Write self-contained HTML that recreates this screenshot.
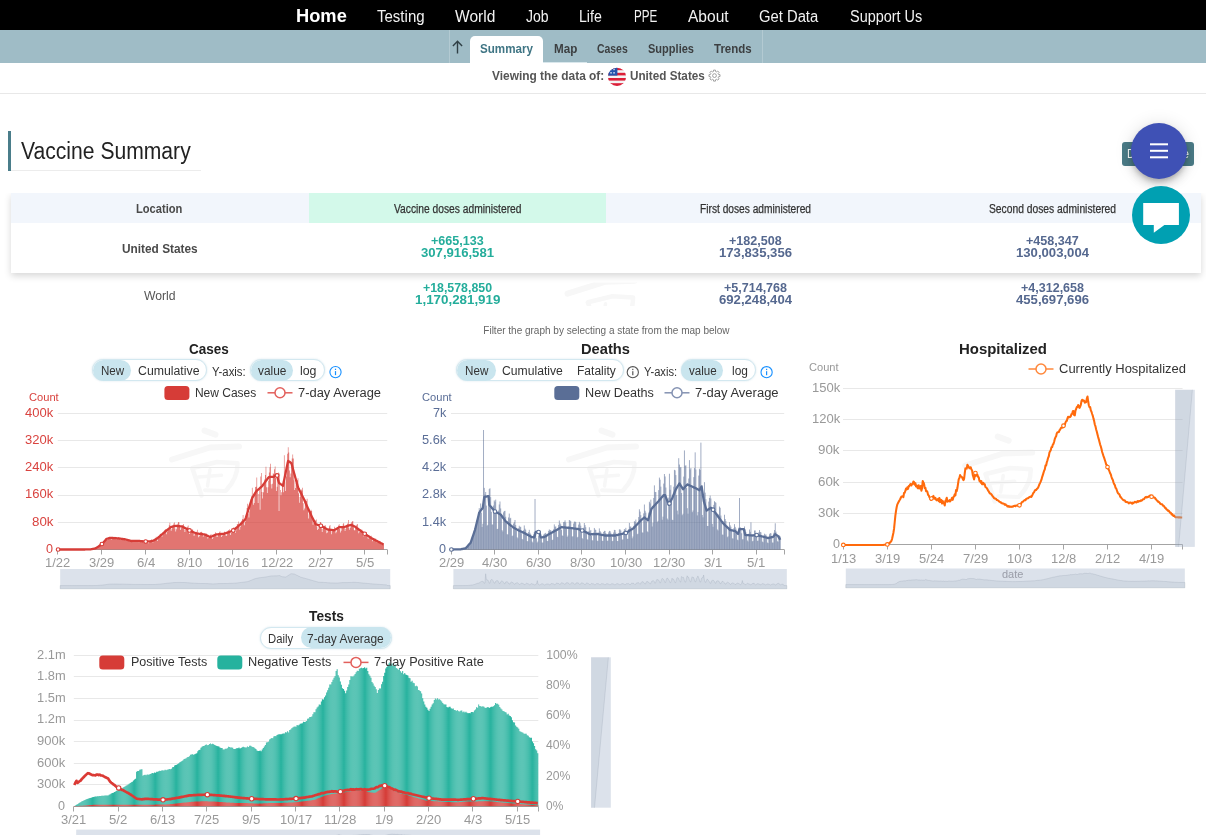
<!DOCTYPE html>
<html lang="en"><head><meta charset="utf-8"><title>COVID-19 Summary</title>
<style>
html,body{margin:0;padding:0;background:#fff;overflow:hidden;}
html{width:1206px;height:835px;}
body{width:1206px;height:835px;overflow:hidden;position:relative;font-family:"Liberation Sans",sans-serif;}
.t{position:absolute;white-space:pre;line-height:1;transform-origin:0 0;font-family:"Liberation Sans",sans-serif;}
.b{position:absolute;box-sizing:border-box;}
svg{position:absolute;left:0;top:0;overflow:hidden;}
</style></head>
<body>
<nav id="topnav">
<div class="b" style="left:0;top:0;width:1206px;height:30px;background:#000"></div>
<span class="t" style="left:295.50px;top:8px;font-size:17.5px;font-weight:700;color:#fff;transform:scaleX(1.0447);">Home</span>
<span class="t" style="left:376.70px;top:9px;font-size:16px;color:#f2f2f2;transform:scaleX(0.9388);">Testing</span>
<span class="t" style="left:455.40px;top:9px;font-size:16px;color:#f2f2f2;transform:scaleX(0.9711);">World</span>
<span class="t" style="left:525.80px;top:9px;font-size:16px;color:#f2f2f2;transform:scaleX(0.8761);">Job</span>
<span class="t" style="left:579.40px;top:9px;font-size:16px;color:#f2f2f2;transform:scaleX(0.8838);">Life</span>
<span class="t" style="left:634.40px;top:9px;font-size:16px;color:#f2f2f2;transform:scaleX(0.7309);">PPE</span>
<span class="t" style="left:688.20px;top:9px;font-size:16px;color:#f2f2f2;transform:scaleX(0.9710);">About</span>
<span class="t" style="left:759.30px;top:9px;font-size:16px;color:#f2f2f2;transform:scaleX(0.9245);">Get Data</span>
<span class="t" style="left:849.50px;top:9px;font-size:16px;color:#f2f2f2;transform:scaleX(0.9020);">Support Us</span>
</nav>
<nav id="subnav">
<div class="b" style="left:0;top:30px;width:1206px;height:33px;background:#9fbcc6"></div>
<div class="b" style="left:449px;top:30px;width:314px;height:33px;border-left:1px solid #b3cad2;border-right:1px solid #b3cad2"></div>
<div class="b" style="left:470px;top:62px;width:117px;height:1px;background:#d9e7ec"></div>
<div class="b" style="left:470px;top:36px;width:73.4px;height:27px;background:#fff;border-radius:5px 5px 0 0"></div>
<svg width="1206" height="835" viewBox="0 0 1206 835"><path d="M457.5 53.4 V41.3 M452.9 46 L457.5 41.3 L462.1 46" fill="none" stroke="#2f3f45" stroke-width="1.4"/></svg>
<span class="t" style="left:480.00px;top:42px;font-size:13px;font-weight:700;color:#3f7584;transform:scaleX(0.8945);">Summary</span>
<span class="t" style="left:553.50px;top:42px;font-size:13px;font-weight:700;color:#3c3f41;transform:scaleX(0.8962);">Map</span>
<span class="t" style="left:597.10px;top:42px;font-size:13px;font-weight:700;color:#3c3f41;transform:scaleX(0.8013);">Cases</span>
<span class="t" style="left:648.00px;top:42px;font-size:13px;font-weight:700;color:#3c3f41;transform:scaleX(0.8489);">Supplies</span>
<span class="t" style="left:714.30px;top:42px;font-size:13px;font-weight:700;color:#3c3f41;transform:scaleX(0.8845);">Trends</span>
</nav>
<header id="region">
<svg width="1206" height="835" viewBox="0 0 1206 835">
<defs><clipPath id="fl"><circle cx="617" cy="76.8" r="9.1"/></clipPath></defs>
<g clip-path="url(#fl)">
<rect x="607" y="67" width="20" height="20" fill="#f4f4f4"/>
<g fill="#dc1f38"><rect x="607" y="67.6" width="20" height="2.6"/><rect x="607" y="72.8" width="20" height="2.6"/><rect x="607" y="78" width="20" height="2.6"/><rect x="607" y="83.2" width="20" height="3"/></g>
<rect x="607" y="67" width="10.4" height="8.6" fill="#2454ad"/>
<g fill="#dfe6f5"><rect x="610.4" y="68.6" width="1.3" height="1.6"/><rect x="613.4" y="68.6" width="1.3" height="1.6"/><rect x="610.4" y="72" width="1.3" height="1.6"/><rect x="613.4" y="72" width="1.3" height="1.6"/></g>
</g>
<g fill="none" stroke="#8c8c8c" stroke-width="0.8" stroke-linejoin="round"><circle cx="714.5" cy="75.6" r="1.9"/><path d="M713.50 71.42L713.54 70.08L715.46 70.08L715.50 71.42L716.75 71.93L717.72 71.02L719.08 72.38L718.17 73.35L718.68 74.60L720.02 74.64L720.02 76.56L718.68 76.60L718.17 77.85L719.08 78.82L717.72 80.18L716.75 79.27L715.50 79.78L715.46 81.12L713.54 81.12L713.50 79.78L712.25 79.27L711.28 80.18L709.92 78.82L710.83 77.85L710.32 76.60L708.98 76.56L708.98 74.64L710.32 74.60L710.83 73.35L709.92 72.38L711.28 71.02L712.25 71.93Z"/></g>
</svg>
<div class="b" style="left:0;top:93px;width:1206px;height:1px;background:#e8e8e8"></div>
<span class="t" style="left:492.30px;top:69px;font-size:13px;font-weight:700;color:#555;transform:scaleX(0.9163);">Viewing the data of:</span>
<span class="t" style="left:630.00px;top:69px;font-size:13px;font-weight:700;color:#555;transform:scaleX(0.9004);">United States</span>
</header>
<section id="vaccine-summary">
<div class="b" style="left:8px;top:131px;width:3px;height:40px;background:#4a7d8a"></div>
<div class="b" style="left:11px;top:170px;width:190px;height:1px;background:#ececec"></div>
<div class="b" style="left:1122px;top:142px;width:72px;height:24px;background:#4b7b87;border-radius:3px"></div>
<div class="b" style="left:11px;top:193px;width:1190px;height:80px;background:#fff;box-shadow:0 3px 7px rgba(0,0,0,0.16);clip-path:inset(0 -12px -14px -12px)"></div>
<div class="b" style="left:11px;top:193px;width:1190px;height:30px;background:#f2f6fc"></div>
<div class="b" style="left:308.5px;top:193px;width:297.5px;height:30px;background:#d3f9ea"></div>
<span class="t" style="left:21.10px;top:140px;font-size:23px;color:#222;transform:scaleX(0.9177);">Vaccine Summary</span>
<span class="t" style="left:1127.00px;top:148px;font-size:12px;color:#fff;transform:scaleX(0.9295);">Data Source</span>
<span class="t" style="left:136.40px;top:203px;font-size:12.5px;font-weight:700;color:#4a4a4a;transform:scaleX(0.8907);">Location</span>
<span class="t" style="left:393.75px;top:203px;font-size:12px;color:#333;transform:scaleX(0.8545);-webkit-text-stroke:0.25px #333;">Vaccine doses administered</span>
<span class="t" style="left:699.50px;top:203px;font-size:12px;color:#333;transform:scaleX(0.8492);-webkit-text-stroke:0.25px #333;">First doses administered</span>
<span class="t" style="left:989.00px;top:203px;font-size:12px;color:#333;transform:scaleX(0.8576);-webkit-text-stroke:0.25px #333;">Second doses administered</span>
<span class="t" style="left:122.35px;top:243px;font-size:12.5px;font-weight:700;color:#4a4a4a;transform:scaleX(0.9475);">United States</span>
<span class="t" style="left:144.00px;top:290px;font-size:12.5px;color:#555;transform:scaleX(0.9747);">World</span>
<span class="t" style="left:431.15px;top:235px;font-size:12px;font-weight:700;color:#24ad9b;transform:scaleX(1.0458);">+665,133</span>
<span class="t" style="left:421.00px;top:246px;font-size:13px;font-weight:700;color:#24ad9b;transform:scaleX(1.0097);">307,916,581</span>
<span class="t" style="left:423.00px;top:282px;font-size:12px;font-weight:700;color:#24ad9b;transform:scaleX(1.0287);">+18,578,850</span>
<span class="t" style="left:414.80px;top:293px;font-size:13px;font-weight:700;color:#24ad9b;transform:scaleX(1.0272);">1,170,281,919</span>
<span class="t" style="left:728.65px;top:235px;font-size:12px;font-weight:700;color:#55688f;transform:scaleX(1.0458);">+182,508</span>
<span class="t" style="left:718.50px;top:246px;font-size:13px;font-weight:700;color:#55688f;transform:scaleX(1.0097);">173,835,356</span>
<span class="t" style="left:723.50px;top:282px;font-size:12px;font-weight:700;color:#55688f;transform:scaleX(1.0429);">+5,714,768</span>
<span class="t" style="left:718.50px;top:293px;font-size:13px;font-weight:700;color:#55688f;transform:scaleX(1.0097);">692,248,404</span>
<span class="t" style="left:1026.15px;top:235px;font-size:12px;font-weight:700;color:#55688f;transform:scaleX(1.0458);">+458,347</span>
<span class="t" style="left:1016.00px;top:246px;font-size:13px;font-weight:700;color:#55688f;transform:scaleX(1.0097);">130,003,004</span>
<span class="t" style="left:1021.00px;top:282px;font-size:12px;font-weight:700;color:#55688f;transform:scaleX(1.0429);">+4,312,658</span>
<span class="t" style="left:1016.00px;top:293px;font-size:13px;font-weight:700;color:#55688f;transform:scaleX(1.0097);">455,697,696</span>
</section>
<aside id="fab">
<div class="b" style="left:1131px;top:123px;width:56px;height:56px;border-radius:50%;background:#3f51b5;box-shadow:0 3px 5px -1px rgba(0,0,0,.2),0 6px 10px 0 rgba(0,0,0,.14),0 1px 18px 0 rgba(0,0,0,.12);z-index:20"></div>
<svg width="1206" height="835" viewBox="0 0 1206 835" style="z-index:21"><g fill="#fff"><rect x="1150" y="143.3" width="18" height="2"/><rect x="1150" y="149.8" width="18" height="2"/><rect x="1150" y="156.3" width="18" height="2"/></g></svg>
<div class="b" style="left:1132px;top:186px;width:58px;height:58px;border-radius:50%;background:#00a0b2;z-index:20"></div>
<svg width="1206" height="835" viewBox="0 0 1206 835" style="z-index:21"><path d="M1143.2 203.1H1178.9V225.1H1164.4L1153.8 232.8V225.1H1143.2Z" fill="#fff"/></svg>
</aside>
<div id="table-bg">
<svg width="1206" height="835" viewBox="0 0 1206 835">
<defs><clipPath id="wc395"><rect x="500" y="282.5" width="200" height="23.5"/></clipPath></defs><g clip-path="url(#wc395)"><g fill="none" stroke="#f7f7f7" stroke-linecap="round" stroke-linejoin="round" transform="translate(395.5 -165.8)"><path d="M204.5 430.6L215.5 434.6" stroke-width="6"/><path d="M172 459.5L210 447.5L239 446.5" stroke-width="6"/><path d="M192.5 468.5L201.5 495.5" stroke-width="4.5"/><path d="M192.5 468L217 462L237.500 463.200Q238 478 226 490.500" stroke-width="4.5"/><path d="M205 490.200L225 491" stroke-width="4"/><path d="M210 469.500L207.500 486" stroke-width="3.5"/><path d="M198.500 477L221.500 475.300" stroke-width="3.5"/></g></g>
</svg>
</div>
<section id="chart-cases" class="chart">
<div class="b toggle" style="left:91.9px;top:359.1px;width:115.4px;height:22.299999999999955px;border:1px solid #d3e8f0;border-radius:11.149999999999977px;background:#fff;box-shadow:0 0 2px rgba(160,200,215,.45)"></div>
<div class="b toggle-on" style="left:92.6px;top:359.8px;width:38.20000000000002px;height:20.899999999999956px;border-radius:11.149999999999977px;background:#c9e5ee"></div>
<div class="b toggle" style="left:249.8px;top:359.1px;width:75.19999999999999px;height:22.299999999999955px;border:1px solid #d3e8f0;border-radius:11.149999999999977px;background:#fff;box-shadow:0 0 2px rgba(160,200,215,.45)"></div>
<div class="b toggle-on" style="left:250.5px;top:359.8px;width:42.60000000000002px;height:20.899999999999956px;border-radius:11.149999999999977px;background:#c9e5ee"></div>
<svg width="1206" height="835" viewBox="0 0 1206 835">
<g fill="none" stroke="#f7f7f7" stroke-linecap="round" stroke-linejoin="round" transform="translate(0 0)"><path d="M204.5 430.6L215.5 434.6" stroke-width="6"/><path d="M172 459.5L210 447.5L239 446.5" stroke-width="6"/><path d="M192.5 468.5L201.5 495.5" stroke-width="4.5"/><path d="M192.5 468L217 462L237.500 463.200Q238 478 226 490.500" stroke-width="4.5"/><path d="M205 490.200L225 491" stroke-width="4"/><path d="M210 469.500L207.500 486" stroke-width="3.5"/><path d="M198.500 477L221.500 475.300" stroke-width="3.5"/></g>
<path d="M57.75 413.5H387.23M57.75 440.5H387.23M57.75 467.5H387.23M57.75 495.5H387.23M57.75 522.5H387.23" stroke="#e8e8e8" stroke-width="1" fill="none"/>
<path d="M57.75 549.5H387.23M57.5 549.5v5M101.5 549.5v5M145.5 549.5v5M189.5 549.5v5M232.5 549.5v5M276.5 549.5v5M320.5 549.5v5M364.5 549.5v5M387.5 549.5v5" stroke="#a4a4a4" stroke-width="1" fill="none"/>
<path d="M57.75 549.5V549.5H58.4V549.5H59.06V549.5H59.71V549.5H60.36V549.5H61.02V549.5H61.67V549.5H62.33V549.5H62.98V549.5H63.63V549.5H64.29V549.5H64.94V549.5H65.59V549.5H66.25V549.5H66.9V549.5H67.56V549.5H68.21V549.5H68.86V549.5H69.52V549.5H70.17V549.5H70.82V549.5H71.48V549.5H72.13V549.5H72.79V549.5H73.44V549.5H74.09V549.5H74.75V549.5H75.4V549.5H76.05V549.5H76.71V549.5H77.36V549.5H78.02V549.5H78.67V549.5H79.32V549.5H79.98V549.5H80.63V549.5H81.28V549.5H81.94V549.5H82.59V549.5H83.25V549.5H83.9V549.5H84.55V549.49H85.21V549.47H85.86V549.46H86.51V549.44H87.17V549.43H87.82V549.42H88.48V549.41H89.13V549.4H89.78V549.38H90.44V549.35H91.09V549.23H91.74V549.07H92.4V548.98H93.05V548.93H93.71V548.76H94.36V548.63H95.01V548.34H95.67V547.88H96.32V547.43H96.97V547.21H97.63V547.14H98.28V546.57H98.94V545.92H99.59V545.27H100.24V544.73H100.9V543.86H101.55V543.94H102.2V544.04H102.86V542.98H103.51V542.27H104.16V540.68H104.82V539.76H105.47V538.3H106.13V538.95H106.78V540.03H107.43V539.31H108.09V538.13H108.74V538.22H109.39V537.25H110.05V537.16H110.7V538.62H111.36V539.51H112.01V538.34H112.66V538.42H113.32V537.89H113.97V537.54H114.62V536.66H115.28V539H115.93V539.42H116.59V538.92H117.24V537.92H117.89V537.59H118.55V537.36H119.2V537.82H119.85V539.04H120.51V539.93H121.16V539.06H121.82V538.41H122.47V538.95H123.12V538.81H123.78V538.54H124.43V539.83H125.08V540.41H125.74V540.08H126.39V539.98H127.05V540.04H127.7V539.62H128.35V539.59H129.01V540.68H129.66V541.17H130.31V541.19H130.97V540.99H131.62V540.54H132.28V540.29H132.93V540.59H133.58V540.85H134.24V541.55H134.89V541.11H135.54V540.62H136.2V540.61H136.85V540.41H137.51V540.45H138.16V541.06H138.81V542.15H139.47V541.87H140.12V541.31H140.77V541.08H141.43V540.82H142.08V540.89H142.73V541.93H143.39V542.41H144.04V542.65H144.7V541.55H145.35V541.26H146V540.19H146.66V539.9H147.31V542.17H147.96V543.17H148.62V542.44H149.27V541.43H149.93V540.96H150.58V539.94H151.23V539.24H151.89V541.71H152.54V542.66H153.19V541.96H153.85V540.55H154.5V539.19H155.16V538.48H155.81V536.75H156.46V539.66H157.12V540.95H157.77V538.66H158.42V537.11H159.08V536.04H159.73V534.33H160.39V533.7H161.04V535.72H161.69V536.77H162.35V535.13H163V532.86H163.65V531.7H164.31V530.21H164.96V528.98H165.62V531.64H166.27V534.24H166.92V531.84H167.58V529.8H168.23V527.91H168.88V525.17H169.54V522.8H170.19V528H170.85V530.86H171.5V528.85H172.15V526.07H172.81V525.33H173.46V523.53H174.11V522.43H174.77V528.53H175.42V531.55H176.08V529.19H176.73V526.54H177.38V523.68H178.04V522.11H178.69V522.14H179.34V526.7H180V530.06H180.65V528.25H181.3V526.79H181.96V525.41H182.61V524.88H183.27V524.05H183.92V529.54H184.57V532.06H185.23V530.12H185.88V527.97H186.53V527.44H187.19V526.63H187.84V525.49H188.5V532.02H189.15V534.02H189.8V532.35H190.46V530.54H191.11V529.4H191.76V529.53H192.42V529.42H193.07V532.77H193.73V536.12H194.38V534.34H195.03V532.29H195.69V532.24H196.34V531.69H196.99V529.81H197.65V534.23H198.3V537.28H198.96V536.19H199.61V534.43H200.26V532.05H200.92V531.68H201.57V532.03H202.22V534.69H202.88V536.78H203.53V536.02H204.19V534.73H204.84V533.46H205.49V533.87H206.15V533.57H206.8V535.83H207.45V538.46H208.11V537.77H208.76V535.93H209.42V535.87H210.07V535.08H210.72V534.01H211.38V537.62H212.03V539.12H212.68V537.77H213.34V535.95H213.99V534.02H214.65V533.64H215.3V532.17H215.95V535.93H216.61V536.96H217.26V536.39H217.91V534.38H218.57V532.9H219.22V531.66H219.88V531.5H220.53V534.38H221.18V537.1H221.84V535.76H222.49V533.83H223.14V533.37H223.8V531.96H224.45V531.38H225.1V535.12H225.76V536.04H226.41V535.4H227.07V532.74H227.72V530.68H228.37V530.04H229.03V529.19H229.68V532.78H230.33V535.03H230.99V533H231.64V531.76H232.3V529.18H232.95V528.72H233.6V526.9H234.26V530.05H234.91V532.92H235.56V530.68H236.22V527.12H236.87V524.34H237.53V523.97H238.18V521.48H238.83V526.89H239.49V529.79H240.14V526.83H240.79V523.69H241.45V520.68H242.1V519.04H242.76V515.11H243.41V522.11H244.06V525.23H244.72V522.03H245.37V518.87H246.02V513.18H246.68V508.01H247.33V503.73H247.99V513.67H248.64V517.48H249.29V511.32H249.95V505.77H250.6V499.29H251.25V496.13H251.91V487.76H252.56V498.69H253.22V504.85H253.87V502.95H254.52V492.38H255.18V486.93H255.83V486.71H256.48V477.57H257.14V491.18H257.79V502.97H258.45V493.94H259.1V489.15H259.75V509.67H260.41V476.53H261.06V473.09H261.71V492.07H262.37V498.55H263.02V492.19H263.68V484.65H264.33V479.55H264.98V475.06H265.64V466.77H266.29V487.33H266.94V492.9H267.6V487.16H268.25V480.82H268.9V472.57H269.56V467.3H270.21V463.8H270.87V484.24H271.52V488.58H272.17V483.7H272.83V473.35H273.48V474.02H274.13V469.35H274.79V466.43H275.44V477.7H276.1V491.01H276.75V486.76H277.4V478.75H278.06V472.41H278.71V511.07H279.36V473.45H280.02V490.01H280.67V495.22H281.33V492.19H281.98V484H282.63V483.48H283.29V492.19H283.94V455.32H284.59V481.15H285.25V490.97H285.9V476.38H286.56V465.53H287.21V453.68H287.86V447.16H288.52V452.6H289.17V470.62H289.82V477.17H290.48V473.49H291.13V464.77H291.79V458.62H292.44V454.57H293.09V458.59H293.75V480.28H294.4V490.06H295.05V488.02H295.71V482.83H296.36V479.57H297.02V480.35H297.67V478.19H298.32V493.35H298.98V502.77H299.63V496.89H300.28V493.73H300.94V489.38H301.59V490.58H302.25V487.85H302.9V503.2H303.55V510.15H304.21V508.47H304.86V500.86H305.51V499.5H306.17V501.11H306.82V498.74H307.47V508.64H308.13V518.62H308.78V514.34H309.44V512.51H310.09V510.88H310.74V509.68H311.4V510.88H312.05V519.63H312.7V524.69H313.36V522.64H314.01V522.14H314.67V519.95H315.32V520.74H315.97V519.61H316.63V526.38H317.28V530.07H317.93V528.9H318.59V526.07H319.24V524.52H319.9V521.97H320.55V522.24H321.2V528.32H321.86V531.9H322.51V528.94H323.16V526.44H323.82V525.48H324.47V525.94H325.13V525.19H325.78V530.37H326.43V533.23H327.09V532.45H327.74V529.63H328.39V528.52H329.05V526.28H329.7V525.11H330.36V530.93H331.01V534.24H331.66V531.54H332.32V530.45H332.97V528.91H333.62V529.01H334.28V526.7H334.93V530.8H335.59V533.23H336.24V531.81H336.89V528.38H337.55V527.44H338.2V525.57H338.85V524.3H339.51V528.76H340.16V532.47H340.82V530.78H341.47V527.58H342.12V525.97H342.78V524.19H343.43V522.96H344.08V527.79H344.74V531.02H345.39V528.86H346.05V525.44H346.7V524.51H347.35V523.52H348.01V520.02H348.66V527.69H349.31V529.66H349.97V527.65H350.62V526.02H351.27V522.34H351.93V521.48H352.58V521.04H353.24V526.84H353.89V530.29H354.54V530.14H355.2V527.1H355.85V525.86H356.5V524.72H357.16V524.04H357.81V529.63H358.47V533.37H359.12V531.64H359.77V530.1H360.43V529.04H361.08V529.76H361.73V529.66H362.39V533.95H363.04V536.32H363.7V535.78H364.35V533.2H365V532.84H365.66V532.59H366.31V532.2H366.96V536.05H367.62V538.61H368.27V538.46H368.93V536.35H369.58V535.84H370.23V536.16H370.89V535.86H371.54V538.83H372.19V541.21H372.85V540.06H373.5V539.62H374.16V539.38H374.81V539.17H375.46V538.52H376.12V541.52H376.77V542.62H377.42V542.08H378.08V541.8H378.73V541.65H379.39V541.66H380.04V541.49H380.69V543.4H381.35V544.67H382V544.48H382.65V544.45H383.31V544.34H383.96V549.5H384.62V549.5H385.27V549.5H385.92V549.5H386.58V549.5H387.23V549.5Z" fill="rgba(213,58,53,0.70)"/>
<path d="M58.08 549.5L58.73 549.5L59.38 549.5L60.04 549.5L60.69 549.5L61.35 549.5L62 549.5L62.65 549.5L63.31 549.5L63.96 549.5L64.61 549.5L65.27 549.5L65.92 549.5L66.58 549.5L67.23 549.5L67.88 549.5L68.54 549.5L69.19 549.5L69.84 549.5L70.5 549.5L71.15 549.5L71.81 549.5L72.46 549.5L73.11 549.5L73.77 549.5L74.42 549.5L75.07 549.5L75.73 549.5L76.38 549.5L77.04 549.5L77.69 549.5L78.34 549.5L79 549.5L79.65 549.5L80.3 549.5L80.96 549.5L81.61 549.5L82.26 549.5L82.92 549.5L83.57 549.5L84.23 549.5L84.88 549.49L85.53 549.47L86.19 549.46L86.84 549.45L87.49 549.43L88.15 549.42L88.8 549.4L89.46 549.39L90.11 549.38L90.76 549.36L91.42 549.23L92.07 549.1L92.72 548.97L93.38 548.84L94.03 548.71L94.69 548.58L95.34 548.4L95.99 548.01L96.65 547.62L97.3 547.22L97.95 546.83L98.61 546.44L99.26 545.95L99.92 545.47L100.57 544.98L101.22 544.5L101.88 544.01L102.53 543.42L103.18 542.68L103.84 541.93L104.49 541.19L105.15 540.45L105.8 539.7L106.45 538.96L107.11 538.75L107.76 538.53L108.41 538.32L109.07 538.11L109.72 537.9L110.38 537.79L111.03 537.84L111.68 537.89L112.34 537.94L112.99 537.99L113.64 538.04L114.3 538.09L114.95 538.15L115.61 538.2L116.26 538.25L116.91 538.3L117.57 538.35L118.22 538.4L118.87 538.45L119.53 538.54L120.18 538.63L120.83 538.72L121.49 538.81L122.14 538.9L122.8 538.99L123.45 539.08L124.1 539.17L124.76 539.26L125.41 539.39L126.06 539.57L126.72 539.75L127.37 539.93L128.03 540.11L128.68 540.28L129.33 540.46L129.99 540.64L130.64 540.82L131.29 541L131.95 540.98L132.6 540.96L133.26 540.95L133.91 540.93L134.56 540.91L135.22 540.89L135.87 540.87L136.52 540.86L137.18 540.84L137.83 540.86L138.49 540.91L139.14 540.96L139.79 541.02L140.45 541.07L141.1 541.12L141.75 541.18L142.41 541.23L143.06 541.28L143.72 541.33L144.37 541.39L145.02 541.44L145.68 541.49L146.33 541.49L146.98 541.45L147.64 541.42L148.29 541.39L148.95 541.35L149.6 541.32L150.25 541.28L150.91 541.25L151.56 541.22L152.21 541.18L152.87 540.94L153.52 540.56L154.18 540.18L154.83 539.8L155.48 539.42L156.14 539.04L156.79 538.66L157.44 538.28L158.1 537.71L158.75 537.15L159.41 536.58L160.06 536.01L160.71 535.45L161.37 534.88L162.02 534.31L162.67 533.75L163.33 533.18L163.98 532.61L164.63 532.05L165.29 531.51L165.94 531L166.6 530.48L167.25 529.97L167.9 529.46L168.56 528.94L169.21 528.43L169.86 527.92L170.52 527.4L171.17 526.89L171.83 526.76L172.48 526.62L173.13 526.49L173.79 526.35L174.44 526.22L175.09 526.08L175.75 525.95L176.4 525.9L177.06 525.97L177.71 526.04L178.36 526.12L179.02 526.19L179.67 526.26L180.32 526.33L180.98 526.41L181.63 526.48L182.29 526.55L182.94 526.9L183.59 527.26L184.25 527.61L184.9 527.97L185.55 528.32L186.21 528.68L186.86 529.03L187.52 529.39L188.17 529.74L188.82 530.1L189.48 530.45L190.13 530.77L190.78 531.06L191.44 531.35L192.09 531.63L192.75 531.92L193.4 532.2L194.05 532.49L194.71 532.78L195.36 533.06L196.01 533.35L196.67 533.44L197.32 533.53L197.98 533.62L198.63 533.71L199.28 533.79L199.94 533.88L200.59 533.97L201.24 534.06L201.9 534.15L202.55 534.24L203.2 534.33L203.86 534.42L204.51 534.5L205.17 534.72L205.82 535.01L206.47 535.31L207.13 535.61L207.78 535.9L208.43 536.2L209.09 536.5L209.74 536.79L210.4 537.09L211.05 536.79L211.7 536.49L212.36 536.19L213.01 535.89L213.66 535.59L214.32 535.29L214.97 534.99L215.63 534.69L216.28 534.51L216.93 534.44L217.59 534.38L218.24 534.32L218.89 534.25L219.55 534.19L220.2 534.12L220.86 534.06L221.51 534L222.16 533.93L222.82 533.87L223.47 533.81L224.12 533.74L224.78 533.64L225.43 533.41L226.09 533.17L226.74 532.93L227.39 532.69L228.05 532.46L228.7 532.22L229.35 531.98L230.01 531.74L230.66 531.51L231.32 531.27L231.97 531.03L232.62 530.8L233.28 530.46L233.93 529.91L234.58 529.35L235.24 528.8L235.89 528.24L236.55 527.69L237.2 527.13L237.85 526.58L238.51 526.02L239.16 525.46L239.81 524.89L240.47 524.23L241.12 523.57L241.78 522.91L242.43 522.25L243.08 521.59L243.74 520.93L244.39 520.27L245.04 519.61L245.7 518.12L246.35 516.07L247 514.03L247.66 511.99L248.31 509.94L248.97 507.9L249.62 505.86L250.27 503.81L250.93 501.77L251.58 499.73L252.23 498.05L252.89 496.94L253.54 495.82L254.2 494.71L254.85 493.59L255.5 492.48L256.16 491.36L256.81 490.79L257.46 490.23L258.12 489.66L258.77 489.09L259.43 488.53L260.08 487.96L260.73 487.39L261.39 486.83L262.04 486.26L262.69 485.37L263.35 484.48L264 483.59L264.66 482.69L265.31 481.8L265.96 480.91L266.62 480.02L267.27 479.13L267.92 478.24L268.58 477.35L269.23 477.05L269.89 477L270.54 476.96L271.19 476.92L271.85 476.87L272.5 476.83L273.15 476.78L273.81 476.74L274.46 476.22L275.12 475.71L275.77 475.19L276.42 474.67L277.08 475.46L277.73 478.2L278.38 480.94L279.04 483L279.69 483.46L280.35 483.92L281 484.37L281.65 484.83L282.31 485.29L282.96 485.75L283.61 482.58L284.27 479.41L284.92 476.24L285.57 473.07L286.23 469.89L286.88 466.64L287.54 463.38L288.19 460.85L288.84 461.32L289.5 461.79L290.15 462.25L290.8 462.72L291.46 463.38L292.11 465.8L292.77 468.21L293.42 470.63L294.07 473.03L294.73 475.39L295.38 477.76L296.03 480.12L296.69 482.49L297.34 484.85L298 487.21L298.65 488.62L299.3 489.93L299.96 491.23L300.61 492.53L301.26 493.84L301.92 495.14L302.57 496.44L303.23 497.75L303.88 499.05L304.53 500.5L305.19 501.97L305.84 503.44L306.49 504.91L307.15 506.38L307.8 507.85L308.46 509.32L309.11 510.78L309.76 512.25L310.42 513.72L311.07 515.1L311.72 516.42L312.38 517.74L313.03 519.06L313.69 520.38L314.34 521.7L314.99 523.02L315.65 524.34L316.3 524.51L316.95 524.67L317.61 524.84L318.26 525L318.92 525.17L319.57 525.33L320.22 525.5L320.88 525.82L321.53 526.18L322.18 526.54L322.84 526.91L323.49 527.27L324.15 527.63L324.8 527.99L325.45 528.35L326.11 528.72L326.76 529.08L327.41 529.44L328.07 529.52L328.72 529.6L329.37 529.68L330.03 529.76L330.68 529.84L331.34 529.92L331.99 530L332.64 530.08L333.3 530.16L333.95 530.24L334.6 529.95L335.26 529.56L335.91 529.17L336.57 528.78L337.22 528.39L337.87 528.01L338.53 527.62L339.18 527.23L339.83 527.21L340.49 527.19L341.14 527.16L341.8 527.14L342.45 527.12L343.1 527.1L343.76 527.07L344.41 526.97L345.06 526.76L345.72 526.54L346.37 526.32L347.03 526.11L347.68 525.89L348.33 525.67L348.99 525.46L349.64 525.24L350.29 525.02L350.95 524.9L351.6 525.16L352.26 525.43L352.91 525.69L353.56 525.95L354.22 526.21L354.87 526.68L355.52 527.15L356.18 527.62L356.83 528.09L357.49 528.56L358.14 529.03L358.79 529.5L359.45 529.97L360.1 530.44L360.75 530.91L361.41 531.38L362.06 531.86L362.72 532.33L363.37 532.8L364.02 533.27L364.68 533.73L365.33 534.16L365.98 534.59L366.64 535.02L367.29 535.45L367.94 535.88L368.6 536.3L369.25 536.73L369.91 537.16L370.56 537.59L371.21 537.98L371.87 538.32L372.52 538.67L373.17 539.02L373.83 539.37L374.48 539.71L375.14 540.06L375.79 540.41L376.44 540.75L377.1 541.1L377.75 541.45L378.4 541.8L379.06 542.14L379.71 542.49L380.37 542.84L381.02 543.18L381.67 543.53L382.33 543.88L382.98 544.22L383.63 544.55" fill="none" stroke="#d63c37" stroke-width="2.3" stroke-linejoin="round"/>
<g fill="#fff" stroke="#d63c37" stroke-width="1.1"><circle cx="58.08" cy="549.5" r="1.8"/><circle cx="101.88" cy="544.01" r="1.8"/><circle cx="145.68" cy="541.49" r="1.8"/><circle cx="189.48" cy="530.45" r="1.8"/><circle cx="233.28" cy="530.46" r="1.8"/><circle cx="277.08" cy="475.46" r="1.8"/><circle cx="320.88" cy="525.82" r="1.8"/><circle cx="364.68" cy="533.73" r="1.8"/></g>
<path d="M60.2 588.8L60.2 585.6L60.86 585.6L61.51 585.6L62.17 585.6L62.82 585.6L63.48 585.6L64.14 585.6L64.79 585.6L65.45 585.6L66.1 585.6L66.76 585.6L67.42 585.6L68.07 585.6L68.73 585.6L69.38 585.6L70.04 585.6L70.7 585.6L71.35 585.6L72.01 585.6L72.67 585.6L73.32 585.6L73.98 585.6L74.63 585.6L75.29 585.6L75.95 585.6L76.6 585.6L77.26 585.6L77.91 585.6L78.57 585.6L79.23 585.6L79.88 585.6L80.54 585.6L81.19 585.6L81.85 585.6L82.51 585.6L83.16 585.6L83.82 585.6L84.47 585.6L85.13 585.6L85.79 585.6L86.44 585.6L87.1 585.6L87.75 585.6L88.41 585.59L89.07 585.59L89.72 585.59L90.38 585.59L91.03 585.59L91.69 585.59L92.35 585.58L93 585.58L93.66 585.56L94.32 585.55L94.97 585.53L95.63 585.51L96.28 585.49L96.94 585.48L97.6 585.45L98.25 585.4L98.91 585.35L99.56 585.3L100.22 585.24L100.88 585.19L101.53 585.12L102.19 585.06L102.84 584.99L103.5 584.93L104.16 584.86L104.81 584.79L105.47 584.69L106.12 584.59L106.78 584.49L107.44 584.39L108.09 584.29L108.75 584.19L109.4 584.16L110.06 584.13L110.72 584.1L111.37 584.07L112.03 584.05L112.69 584.03L113.34 584.04L114 584.04L114.65 584.05L115.31 584.06L115.97 584.06L116.62 584.07L117.28 584.08L117.93 584.09L118.59 584.09L119.25 584.1L119.9 584.11L120.56 584.11L121.21 584.12L121.87 584.13L122.53 584.14L123.18 584.16L123.84 584.17L124.49 584.18L125.15 584.19L125.81 584.2L126.46 584.22L127.12 584.23L127.77 584.25L128.43 584.27L129.09 584.29L129.74 584.32L130.4 584.34L131.05 584.36L131.71 584.39L132.37 584.41L133.02 584.44L133.68 584.46L134.34 584.46L134.99 584.46L135.65 584.45L136.3 584.45L136.96 584.45L137.62 584.45L138.27 584.44L138.93 584.44L139.58 584.44L140.24 584.44L140.9 584.45L141.55 584.46L142.21 584.46L142.86 584.47L143.52 584.48L144.18 584.48L144.83 584.49L145.49 584.5L146.14 584.51L146.8 584.51L147.46 584.52L148.11 584.53L148.77 584.53L149.42 584.52L150.08 584.52L150.74 584.51L151.39 584.51L152.05 584.5L152.7 584.5L153.36 584.49L154.02 584.49L154.67 584.49L155.33 584.45L155.99 584.4L156.64 584.35L157.3 584.3L157.95 584.25L158.61 584.2L159.27 584.15L159.92 584.1L160.58 584.02L161.23 583.94L161.89 583.87L162.55 583.79L163.2 583.72L163.86 583.64L164.51 583.56L165.17 583.49L165.83 583.41L166.48 583.34L167.14 583.26L167.79 583.19L168.45 583.12L169.11 583.05L169.76 582.98L170.42 582.91L171.07 582.85L171.73 582.78L172.39 582.71L173.04 582.64L173.7 582.57L174.36 582.55L175.01 582.53L175.67 582.52L176.32 582.5L176.98 582.48L177.64 582.46L178.29 582.44L178.95 582.44L179.6 582.45L180.26 582.46L180.92 582.47L181.57 582.48L182.23 582.49L182.88 582.5L183.54 582.5L184.2 582.51L184.85 582.52L185.51 582.57L186.16 582.62L186.82 582.67L187.48 582.71L188.13 582.76L188.79 582.81L189.44 582.86L190.1 582.9L190.76 582.95L191.41 583L192.07 583.05L192.72 583.09L193.38 583.13L194.04 583.17L194.69 583.21L195.35 583.24L196.01 583.28L196.66 583.32L197.32 583.36L197.97 583.4L198.63 583.44L199.29 583.45L199.94 583.46L200.6 583.47L201.25 583.48L201.91 583.5L202.57 583.51L203.22 583.52L203.88 583.53L204.53 583.54L205.19 583.55L205.85 583.57L206.5 583.58L207.16 583.59L207.81 583.62L208.47 583.66L209.13 583.7L209.78 583.74L210.44 583.78L211.09 583.82L211.75 583.86L212.41 583.9L213.06 583.94L213.72 583.9L214.37 583.86L215.03 583.82L215.69 583.78L216.34 583.74L217 583.7L217.66 583.66L218.31 583.62L218.97 583.59L219.62 583.58L220.28 583.57L220.94 583.57L221.59 583.56L222.25 583.55L222.9 583.54L223.56 583.53L224.22 583.52L224.87 583.51L225.53 583.51L226.18 583.5L226.84 583.49L227.5 583.47L228.15 583.44L228.81 583.41L229.46 583.38L230.12 583.35L230.78 583.32L231.43 583.28L232.09 583.25L232.74 583.22L233.4 583.19L234.06 583.16L234.71 583.13L235.37 583.09L236.03 583.05L236.68 582.97L237.34 582.9L237.99 582.83L238.65 582.75L239.31 582.68L239.96 582.6L240.62 582.53L241.27 582.45L241.93 582.38L242.59 582.3L243.24 582.21L243.9 582.12L244.55 582.04L245.21 581.95L245.87 581.86L246.52 581.77L247.18 581.68L247.83 581.59L248.49 581.39L249.15 581.12L249.8 580.85L250.46 580.57L251.11 580.3L251.77 580.02L252.43 579.75L253.08 579.48L253.74 579.2L254.39 578.93L255.05 578.71L255.71 578.56L256.36 578.41L257.02 578.26L257.68 578.11L258.33 577.96L258.99 577.81L259.64 577.73L260.3 577.66L260.96 577.58L261.61 577.5L262.27 577.43L262.92 577.35L263.58 577.28L264.24 577.2L264.89 577.12L265.55 577.01L266.2 576.89L266.86 576.77L267.52 576.65L268.17 576.53L268.83 576.41L269.48 576.29L270.14 576.17L270.8 576.05L271.45 575.93L272.11 575.89L272.76 575.88L273.42 575.88L274.08 575.87L274.73 575.87L275.39 575.86L276.04 575.85L276.7 575.85L277.36 575.78L278.01 575.71L278.67 575.64L279.33 575.57L279.98 575.68L280.64 576.04L281.29 576.41L281.95 576.69L282.61 576.75L283.26 576.81L283.92 576.87L284.57 576.93L285.23 577L285.89 577.06L286.54 576.63L287.2 576.21L287.85 575.78L288.51 575.36L289.17 574.93L289.82 574.5L290.48 574.06L291.13 573.72L291.79 573.78L292.45 573.85L293.1 573.91L293.76 573.97L294.41 574.06L295.07 574.38L295.73 574.71L296.38 575.03L297.04 575.35L297.7 575.67L298.35 575.99L299.01 576.3L299.66 576.62L300.32 576.94L300.98 577.25L301.63 577.44L302.29 577.62L302.94 577.79L303.6 577.97L304.26 578.14L304.91 578.31L305.57 578.49L306.22 578.66L306.88 578.84L307.54 579.03L308.19 579.23L308.85 579.43L309.5 579.62L310.16 579.82L310.82 580.02L311.47 580.21L312.13 580.41L312.78 580.61L313.44 580.81L314.1 580.99L314.75 581.17L315.41 581.34L316.06 581.52L316.72 581.7L317.38 581.87L318.03 582.05L318.69 582.23L319.35 582.25L320 582.27L320.66 582.29L321.31 582.32L321.97 582.34L322.63 582.36L323.28 582.38L323.94 582.43L324.59 582.47L325.25 582.52L325.91 582.57L326.56 582.62L327.22 582.67L327.87 582.72L328.53 582.77L329.19 582.81L329.84 582.86L330.5 582.91L331.15 582.92L331.81 582.93L332.47 582.94L333.12 582.95L333.78 582.97L334.43 582.98L335.09 582.99L335.75 583L336.4 583.01L337.06 583.02L337.71 582.98L338.37 582.93L339.03 582.88L339.68 582.82L340.34 582.77L341 582.72L341.65 582.67L342.31 582.62L342.96 582.61L343.62 582.61L344.28 582.61L344.93 582.6L345.59 582.6L346.24 582.6L346.9 582.59L347.56 582.58L348.21 582.55L348.87 582.52L349.52 582.49L350.18 582.46L350.84 582.44L351.49 582.41L352.15 582.38L352.8 582.35L353.46 582.32L354.12 582.3L354.77 582.34L355.43 582.37L356.08 582.41L356.74 582.44L357.4 582.48L358.05 582.54L358.71 582.6L359.37 582.67L360.02 582.73L360.68 582.79L361.33 582.86L361.99 582.92L362.65 582.98L363.3 583.05L363.96 583.11L364.61 583.17L365.27 583.24L365.93 583.3L366.58 583.36L367.24 583.42L367.89 583.49L368.55 583.54L369.21 583.6L369.86 583.66L370.52 583.72L371.17 583.77L371.83 583.83L372.49 583.89L373.14 583.95L373.8 584L374.45 584.06L375.11 584.1L375.77 584.15L376.42 584.2L377.08 584.24L377.73 584.29L378.39 584.33L379.05 584.38L379.7 584.43L380.36 584.47L381.02 584.52L381.67 584.57L382.33 584.61L382.98 584.66L383.64 584.71L384.3 584.75L384.95 584.8L385.61 584.85L386.26 584.89L386.92 584.94L387.58 585.6L388.23 585.6L388.89 585.6L389.54 585.6L390.2 585.6L390.2 588.8Z" fill="rgba(47,69,84,0.09)" stroke="rgba(47,69,84,0.3)" stroke-width="0.5"/>
<rect x="60.2" y="569" width="330" height="19.8" fill="rgba(167,183,204,0.4)"/>
<rect x="164.4" y="386" width="25" height="14" rx="3.5" fill="#d63c37"/>
<path d="M267.5 392.8H292.5" stroke="#e2605c" stroke-width="1.5"/><circle cx="280" cy="392.8" r="5" fill="#fff" stroke="#e2605c" stroke-width="1.5"/>
<g class="info"><circle cx="335.5" cy="372.1" r="5.6" fill="none" stroke="#1890ff" stroke-width="1.1"/><rect x="334.9" y="371.1" width="1.2" height="4" fill="#1890ff"/><rect x="334.9" y="368.70000000000005" width="1.2" height="1.3" fill="#1890ff"/></g>
</svg>
<span class="t" style="left:46.30px;top:543px;font-size:12.3px;color:#d9433f;transform:scaleX(1.0228);">0</span>
<span class="t" style="left:31.80px;top:516px;font-size:12.3px;color:#d9433f;transform:scaleX(1.0843);">80k</span>
<span class="t" style="left:25.10px;top:488px;font-size:12.3px;color:#d9433f;transform:scaleX(1.0573);">160k</span>
<span class="t" style="left:25.10px;top:461px;font-size:12.3px;color:#d9433f;transform:scaleX(1.0573);">240k</span>
<span class="t" style="left:25.10px;top:434px;font-size:12.3px;color:#d9433f;transform:scaleX(1.0573);">320k</span>
<span class="t" style="left:25.10px;top:407px;font-size:12.3px;color:#d9433f;transform:scaleX(1.0573);">400k</span>
<span class="t" style="left:28.60px;top:392px;font-size:11.3px;color:#d9433f;transform:scaleX(0.9849);">Count</span>
<span class="t" style="left:45.40px;top:557px;font-size:12.5px;color:#999;transform:scaleX(1.0393);">1/22</span>
<span class="t" style="left:89.20px;top:557px;font-size:12.5px;color:#999;transform:scaleX(1.0393);">3/29</span>
<span class="t" style="left:136.50px;top:557px;font-size:12.5px;color:#999;transform:scaleX(1.0523);">6/4</span>
<span class="t" style="left:176.80px;top:557px;font-size:12.5px;color:#999;transform:scaleX(1.0393);">8/10</span>
<span class="t" style="left:217.10px;top:557px;font-size:12.5px;color:#999;transform:scaleX(1.0326);">10/16</span>
<span class="t" style="left:260.90px;top:557px;font-size:12.5px;color:#999;transform:scaleX(1.0326);">12/22</span>
<span class="t" style="left:308.20px;top:557px;font-size:12.5px;color:#999;transform:scaleX(1.0393);">2/27</span>
<span class="t" style="left:355.50px;top:557px;font-size:12.5px;color:#999;transform:scaleX(1.0523);">5/5</span>
<span class="t" style="left:194.90px;top:387px;font-size:12px;color:#333;">New Cases</span>
<span class="t" style="left:298.10px;top:387px;font-size:12px;color:#333;transform:scaleX(1.0755);">7-day Average</span>
<span class="t" style="left:188.80px;top:341px;font-size:15px;font-weight:700;color:#222;transform:scaleX(0.9004);">Cases</span>
<span class="t" style="left:100.70px;top:365px;font-size:12.5px;color:#333;transform:scaleX(0.9234);">New</span>
<span class="t" style="left:138.40px;top:365px;font-size:12.5px;color:#333;transform:scaleX(0.9835);">Cumulative</span>
<span class="t" style="left:212.10px;top:366px;font-size:12px;color:#333;transform:scaleX(0.9472);">Y-axis:</span>
<span class="t" style="left:257.80px;top:365px;font-size:12.5px;color:#333;transform:scaleX(0.9501);">value</span>
<span class="t" style="left:300.20px;top:365px;font-size:12.5px;color:#333;transform:scaleX(0.9888);">log</span>
</section>
<section id="chart-deaths" class="chart">
<div class="b toggle" style="left:455.8px;top:359.1px;width:168.2px;height:22.299999999999955px;border:1px solid #d3e8f0;border-radius:11.149999999999977px;background:#fff;box-shadow:0 0 2px rgba(160,200,215,.45)"></div>
<div class="b toggle-on" style="left:456.5px;top:359.8px;width:39.0px;height:20.899999999999956px;border-radius:11.149999999999977px;background:#c9e5ee"></div>
<div class="b toggle" style="left:680.6px;top:359.1px;width:75.29999999999995px;height:22.299999999999955px;border:1px solid #d3e8f0;border-radius:11.149999999999977px;background:#fff;box-shadow:0 0 2px rgba(160,200,215,.45)"></div>
<div class="b toggle-on" style="left:681.3px;top:359.8px;width:42.0px;height:20.899999999999956px;border-radius:11.149999999999977px;background:#c9e5ee"></div>
<svg width="1206" height="835" viewBox="0 0 1206 835">
<g fill="none" stroke="#f7f7f7" stroke-linecap="round" stroke-linejoin="round" transform="translate(397 0)"><path d="M204.5 430.6L215.5 434.6" stroke-width="6"/><path d="M172 459.5L210 447.5L239 446.5" stroke-width="6"/><path d="M192.5 468.5L201.5 495.5" stroke-width="4.5"/><path d="M192.5 468L217 462L237.500 463.200Q238 478 226 490.500" stroke-width="4.5"/><path d="M205 490.200L225 491" stroke-width="4"/><path d="M210 469.500L207.500 486" stroke-width="3.5"/><path d="M198.500 477L221.500 475.300" stroke-width="3.5"/></g>
<path d="M451 413.5H784.2M451 440.5H784.2M451 467.5H784.2M451 495.5H784.2M451 522.5H784.2" stroke="#e8e8e8" stroke-width="1" fill="none"/>
<path d="M451 549.5H784.2M451.5 549.5v5M494.5 549.5v5M538.5 549.5v5M581.5 549.5v5M625.5 549.5v5M669.5 549.5v5M712.5 549.5v5M756.5 549.5v5M784.5 549.5v5" stroke="#a4a4a4" stroke-width="1" fill="none"/>
<path d="M456.36 549.5V549.44M457.08 549.5V549.44M457.79 549.5V549.43M458.51 549.5V549.42M459.22 549.5V549.41M459.94 549.5V549.4M460.65 549.5V549.24M461.37 549.5V549.13M462.08 549.5V549.08M462.8 549.5V548.89M463.51 549.5V548.65M464.23 549.5V548.5M464.94 549.5V548.38M465.66 549.5V548.34M466.37 549.5V547.7M467.09 549.5V546.98M467.8 549.5V546.49M468.52 549.5V545.18M469.23 549.5V544.11M469.95 549.5V543.57M470.66 549.5V542.36M471.38 549.5V540.77M472.09 549.5V539M472.81 549.5V537.61M473.52 549.5V533.38M474.24 549.5V530.72M474.95 549.5V528.17M475.67 549.5V526.07M476.38 549.5V525.38M477.1 549.5V522.01M477.81 549.5V519.17M478.53 549.5V512.36M479.24 549.5V508.15M479.96 549.5V510.16M480.67 549.5V503.48M481.39 549.5V512.65M482.1 549.5V527.01M482.82 549.5V523.72M483.53 549.5V430.01M484.25 549.5V487.89M484.96 549.5V494.53M485.68 549.5V491.99M486.39 549.5V505.62M487.11 549.5V525.78M487.82 549.5V524.84M488.54 549.5V495.67M489.25 549.5V489.15M489.97 549.5V488.25M490.68 549.5V497.16M491.4 549.5V511.91M492.11 549.5V524.55M492.83 549.5V524.5M493.54 549.5V505.54M494.26 549.5V500.41M494.97 549.5V501.66M495.69 549.5V499.6M496.4 549.5V512.45M497.12 549.5V529.05M497.83 549.5V528.81M498.55 549.5V510.57M499.26 549.5V504.47M499.98 549.5V501.47M500.69 549.5V508.44M501.41 549.5V516.64M502.12 549.5V530.11M502.84 549.5V531.46M503.55 549.5V512.33M504.27 549.5V511.05M504.98 549.5V510.82M505.7 549.5V516.76M506.41 549.5V523.42M507.13 549.5V534.25M507.84 549.5V534.43M508.56 549.5V517.46M509.27 549.5V513.56M509.99 549.5V518.49M510.7 549.5V517.84M511.42 549.5V528.03M512.13 549.5V536.16M512.85 549.5V535.52M513.56 549.5V523.64M514.28 549.5V522.18M514.99 549.5V519.99M515.71 549.5V525.08M516.42 549.5V530.85M517.14 549.5V537.24M517.85 549.5V538.31M518.57 549.5V528.19M519.28 549.5V525.75M520 549.5V527.12M520.71 549.5V526.75M521.43 549.5V533.15M522.14 549.5V538.98M522.86 549.5V539.55M523.57 549.5V530.23M524.29 549.5V525.44M525 549.5V528.63M525.72 549.5V529.78M526.43 549.5V533.94M527.15 549.5V541.09M527.86 549.5V541.35M528.58 549.5V532.08M529.29 549.5V529.83M530.01 549.5V532.8M530.72 549.5V534.18M531.44 549.5V536.94M532.15 549.5V541.59M532.87 549.5V542.55M533.58 549.5V534.43M534.3 549.5V532.15M535.02 549.5V498.99M535.73 549.5V534.11M536.45 549.5V538.21M537.16 549.5V542.6M537.88 549.5V541.5M538.59 549.5V535.59M539.31 549.5V531.86M540.02 549.5V531.09M540.74 549.5V533.82M541.45 549.5V537.71M542.17 549.5V542.52M542.88 549.5V542.61M543.6 549.5V534.75M544.31 549.5V533.79M545.03 549.5V533.52M545.74 549.5V532.85M546.46 549.5V535.58M547.17 549.5V540.93M547.89 549.5V541.13M548.6 549.5V530.93M549.32 549.5V529.41M550.03 549.5V530.43M550.75 549.5V530.04M551.46 549.5V533.64M552.18 549.5V540.09M552.89 549.5V539.68M553.61 549.5V529.32M554.32 549.5V524.43M555.04 549.5V526.73M555.75 549.5V526.45M556.47 549.5V529.73M557.18 549.5V536.85M557.9 549.5V537.2M558.61 549.5V524.93M559.33 549.5V520.49M560.04 549.5V523.2M560.76 549.5V524.37M561.47 549.5V529.76M562.19 549.5V535.45M562.9 549.5V535.93M563.62 549.5V522.09M564.33 549.5V521.85M565.05 549.5V520.34M565.76 549.5V522.43M566.48 549.5V527.8M567.19 549.5V536.98M567.91 549.5V535.62M568.62 549.5V526.24M569.34 549.5V520M570.05 549.5V520.53M570.77 549.5V521.26M571.48 549.5V528.26M572.2 549.5V536.5M572.91 549.5V536.37M573.63 549.5V523.58M574.34 549.5V521.7M575.06 549.5V521.6M575.77 549.5V522.11M576.49 549.5V528.51M577.2 549.5V537.47M577.92 549.5V536.8M578.63 549.5V524.61M579.35 549.5V521.88M580.06 549.5V523.24M580.78 549.5V525.73M581.49 549.5V530.79M582.21 549.5V538.05M582.92 549.5V539.15M583.64 549.5V527.74M584.35 549.5V523.01M585.07 549.5V525.11M585.78 549.5V527.23M586.5 549.5V533.52M587.21 549.5V539.29M587.93 549.5V539.75M588.64 549.5V531.36M589.36 549.5V527.3M590.07 549.5V531.15M590.79 549.5V529.94M591.5 549.5V536.01M592.22 549.5V540.31M592.93 549.5V540.46M593.65 549.5V532.57M594.36 549.5V527.96M595.08 549.5V529.49M595.79 549.5V530M596.51 549.5V533.66M597.22 549.5V540.66M597.94 549.5V541.1M598.65 549.5V532.47M599.37 549.5V528.4M600.08 549.5V530.99M600.8 549.5V532.1M601.51 549.5V534.52M602.23 549.5V540.66M602.94 549.5V541.05M603.66 549.5V532.01M604.37 549.5V530.86M605.09 549.5V530.87M605.8 549.5V533.02M606.52 549.5V536.25M607.23 549.5V540.81M607.95 549.5V540.67M608.66 549.5V532.39M609.38 549.5V530.87M610.09 549.5V531.11M610.81 549.5V532.69M611.52 549.5V536.89M612.24 549.5V541.22M612.95 549.5V540.77M613.67 549.5V532.47M614.38 549.5V529.88M615.1 549.5V530.04M615.81 549.5V532.6M616.53 549.5V536.51M617.24 549.5V540.99M617.96 549.5V541.13M618.67 549.5V533.18M619.39 549.5V529.43M620.1 549.5V529.42M620.82 549.5V530.53M621.53 549.5V535.09M622.25 549.5V539.72M622.96 549.5V539.4M623.68 549.5V531.18M624.39 549.5V529.04M625.11 549.5V529.88M625.82 549.5V527.84M626.54 549.5V534.46M627.25 549.5V538.86M627.97 549.5V538.82M628.68 549.5V529.07M629.4 549.5V522.91M630.11 549.5V526.55M630.83 549.5V526.64M631.54 549.5V530.44M632.26 549.5V538.29M632.97 549.5V536.46M633.69 549.5V525.89M634.4 549.5V521.17M635.12 549.5V521.91M635.83 549.5V519.55M636.55 549.5V526.26M637.26 549.5V534.24M637.98 549.5V533.71M638.69 549.5V517.07M639.41 549.5V509.32M640.12 549.5V511.61M640.84 549.5V515.16M641.55 549.5V521.15M642.27 549.5V532.48M642.98 549.5V532.64M643.7 549.5V513.37M644.41 549.5V504.51M645.13 549.5V510.76M645.84 549.5V512.65M646.56 549.5V521.2M647.27 549.5V531.35M647.99 549.5V532.19M648.7 549.5V512.55M649.42 549.5V501.75M650.13 549.5V503.41M650.85 549.5V499.65M651.56 549.5V507.89M652.28 549.5V526.51M652.99 549.5V522.69M653.71 549.5V498M654.42 549.5V485.39M655.14 549.5V491.95M655.85 549.5V492.09M656.57 549.5V502.32M657.28 549.5V522.21M658 549.5V520.89M658.71 549.5V490.1M659.43 549.5V477.61M660.14 549.5V479.68M660.86 549.5V486.64M661.57 549.5V498.6M662.29 549.5V519.76M663 549.5V516.66M663.72 549.5V483.58M664.43 549.5V474.01M665.15 549.5V476.46M665.86 549.5V487.54M666.58 549.5V498.04M667.29 549.5V518.54M668.01 549.5V519.79M668.72 549.5V497.67M669.44 549.5V473.73M670.15 549.5V489.76M670.87 549.5V485.17M671.58 549.5V498.77M672.3 549.5V519.76M673.01 549.5V520.09M673.73 549.5V486.7M674.44 549.5V469.84M675.16 549.5V470.37M675.87 549.5V475.09M676.59 549.5V495.15M677.3 549.5V510.63M678.02 549.5V514.41M678.73 549.5V458.19M679.45 549.5V464.55M680.16 549.5V467.53M680.88 549.5V466.97M681.59 549.5V493.04M682.31 549.5V515.2M683.02 549.5V513.75M683.74 549.5V476.61M684.45 549.5V450.41M685.17 549.5V465.74M685.88 549.5V465.32M686.6 549.5V488.03M687.31 549.5V508.2M688.03 549.5V513.7M688.74 549.5V478.51M689.46 549.5V460.13M690.17 549.5V469.51M690.89 549.5V468.05M691.6 549.5V487.7M692.32 549.5V512.18M693.03 549.5V510.47M693.75 549.5V477.13M694.46 549.5V468.1M695.18 549.5V452.36M695.89 549.5V469.55M696.61 549.5V487.54M697.32 549.5V515.4M698.04 549.5V511.97M698.75 549.5V475.57M699.47 549.5V468.78M700.18 549.5V470.02M700.9 549.5V442.64M701.62 549.5V488.69M702.33 549.5V514.98M703.05 549.5V517.34M703.76 549.5V497.73M704.48 549.5V482.18M705.19 549.5V492.64M705.91 549.5V499.2M706.62 549.5V510.5M707.34 549.5V525.97M708.05 549.5V525.96M708.77 549.5V501.6M709.48 549.5V497.98M710.2 549.5V495.6M710.91 549.5V498.5M711.63 549.5V507.25M712.34 549.5V523.91M713.06 549.5V526.79M713.77 549.5V504.89M714.49 549.5V501.16M715.2 549.5V502.11M715.92 549.5V502.75M716.63 549.5V513.87M717.35 549.5V529.45M718.06 549.5V530.52M718.78 549.5V514.36M719.49 549.5V506.52M720.21 549.5V507.77M720.92 549.5V515.56M721.64 549.5V521.32M722.35 549.5V534.63M723.07 549.5V534.73M723.78 549.5V521.33M724.5 549.5V514.74M725.21 549.5V519.01M725.93 549.5V521.07M726.64 549.5V527.22M727.36 549.5V537.22M728.07 549.5V536.32M728.79 549.5V526.98M729.5 549.5V522.17M730.22 549.5V525.3M730.93 549.5V526.77M731.65 549.5V531.07M732.36 549.5V538.36M733.08 549.5V538.55M733.79 549.5V528.2M734.51 549.5V524.15M735.22 549.5V526.86M735.94 549.5V528.59M736.65 549.5V532.88M737.37 549.5V539.65M738.08 549.5V540.26M738.8 549.5V527.61M739.51 549.5V498.01M740.23 549.5V527.12M740.94 549.5V530.16M741.66 549.5V533.27M742.37 549.5V539.36M743.09 549.5V539.22M743.8 549.5V531.24M744.52 549.5V526.47M745.23 549.5V529.31M745.95 549.5V532.34M746.66 549.5V534.56M747.38 549.5V540.45M748.09 549.5V541.51M748.81 549.5V533.72M749.52 549.5V529.5M750.24 549.5V531.83M750.95 549.5V522.3M751.67 549.5V535.34M752.38 549.5V541.32M753.1 549.5V540.79M753.81 549.5V534.2M754.53 549.5V530.55M755.24 549.5V530.47M755.96 549.5V533.15M756.67 549.5V536.39M757.39 549.5V540.85M758.1 549.5V540.65M758.82 549.5V532.32M759.53 549.5V530.07M760.25 549.5V531.95M760.96 549.5V532.3M761.68 549.5V536.89M762.39 549.5V541.58M763.11 549.5V542.29M763.82 549.5V535.94M764.54 549.5V533.69M765.25 549.5V534.79M765.97 549.5V534.46M766.68 549.5V538.13M767.4 549.5V542.52M768.11 549.5V543.1M768.83 549.5V536.77M769.54 549.5V534.25M770.26 549.5V533.13M770.97 549.5V533.31M771.69 549.5V536.92M772.4 549.5V542.6M773.12 549.5V542.55M773.83 549.5V532.77M774.55 549.5V530.02M775.26 549.5V523.27M775.98 549.5V531.61M776.69 549.5V535.81M777.41 549.5V541.26M778.12 549.5V541.65M778.84 549.5V535.24M779.55 549.5V535.8M780.27 549.5V536.49" stroke="rgba(90,110,150,0.80)" stroke-width="0.72" fill="none"/>
<path d="M451.36 549.5L452.07 549.49L452.79 549.48L453.5 549.48L454.22 549.47L454.93 549.46L455.65 549.45L456.36 549.44L457.08 549.44L457.79 549.43L458.51 549.42L459.22 549.41L459.94 549.4L460.65 549.27L461.37 549.14L462.08 549L462.8 548.87L463.51 548.74L464.23 548.6L464.94 548.47L465.66 548.33L466.37 547.53L467.09 546.72L467.8 545.92L468.52 545.11L469.23 544.31L469.95 543.5L470.66 542.7L471.38 540.6L472.09 538.49L472.81 536.39L473.52 534.28L474.24 532.18L474.95 530.07L475.67 527.16L476.38 524.24L477.1 521.33L477.81 518.41L478.53 515.5L479.24 512.59L479.96 511.61L480.67 510.64L481.39 509.67L482.1 508.7L482.82 507.73L483.53 502.39L484.25 497.04L484.96 496.88L485.68 496.72L486.39 496.56L487.11 496.4L487.82 496.23L488.54 496.07L489.25 504.81L489.97 505.66L490.68 506.51L491.4 507.36L492.11 508.21L492.83 509.06L493.54 509.91L494.26 510.76L494.97 511.61L495.69 511.98L496.4 512.34L497.12 512.71L497.83 513.07L498.55 513.44L499.26 513.8L499.98 514.16L500.69 514.53L501.41 515.5L502.12 516.47L502.84 517.44L503.55 518.41L504.27 519.39L504.98 520.36L505.7 521.33L506.41 521.91L507.13 522.49L507.84 523.08L508.56 523.66L509.27 524.24L509.99 524.83L510.7 525.41L511.42 525.99L512.13 526.57L512.85 527.16L513.56 527.57L514.28 527.99L514.99 528.41L515.71 528.82L516.42 529.24L517.14 529.66L517.85 530.07L518.57 530.4L519.28 530.72L520 531.04L520.71 531.37L521.43 531.69L522.14 532.01L522.86 532.34L523.57 532.66L524.29 532.99L525 533.37L525.72 533.76L526.43 534.15L527.15 534.54L527.86 534.93L528.58 535.32L529.29 535.71L530.01 536.09L530.72 536.48L531.44 536.87L532.15 537.02L532.87 537.16L533.58 537.31L534.3 537.45L535.02 534.73L535.73 532.01L536.45 532.01L537.16 532.01L537.88 532.01L538.59 532.01L539.31 532.01L540.02 534.73L540.74 537.45L541.45 537.38L542.17 537.3L542.88 537.22L543.6 537.14L544.31 537.07L545.03 536.62L545.74 536.18L546.46 535.73L547.17 535.29L547.89 534.85L548.6 534.4L549.32 533.96L550.03 533.57L550.75 533.18L551.46 532.79L552.18 532.4L552.89 532.01L553.61 531.63L554.32 531.24L555.04 530.85L555.75 530.46L556.47 530.07L557.18 529.66L557.9 529.24L558.61 528.82L559.33 528.41L560.04 527.99L560.76 527.57L561.47 527.16L562.19 527.23L562.9 527.3L563.62 527.37L564.33 527.43L565.05 527.5L565.76 527.57L566.48 527.64L567.19 527.71L567.91 527.78L568.62 527.85L569.34 527.92L570.05 527.99L570.77 528.06L571.48 528.13L572.2 528.23L572.91 528.32L573.63 528.42L574.34 528.52L575.06 528.61L575.77 528.71L576.49 528.81L577.2 528.91L577.92 529L578.63 529.1L579.35 529.38L580.06 529.66L580.78 529.93L581.49 530.21L582.21 530.49L582.92 530.77L583.64 531.04L584.35 531.41L585.07 531.78L585.78 532.14L586.5 532.51L587.21 532.88L587.93 533.24L588.64 533.61L589.36 533.98L590.07 534.35L590.79 534.31L591.5 534.27L592.22 534.23L592.93 534.19L593.65 534.15L594.36 534.11L595.08 534.07L595.79 534.03L596.51 534L597.22 533.96L597.94 534.1L598.65 534.24L599.37 534.38L600.08 534.52L600.8 534.66L601.51 534.8L602.23 534.95L602.94 535.09L603.66 535.23L604.37 535.37L605.09 535.51L605.8 535.51L606.52 535.51L607.23 535.51L607.95 535.51L608.66 535.51L609.38 535.51L610.09 535.51L610.81 535.51L611.52 535.51L612.24 535.51L612.95 535.51L613.67 535.51L614.38 535.51L615.1 535.51L615.81 535.34L616.53 535.17L617.24 535.01L617.96 534.84L618.67 534.67L619.39 534.5L620.1 534.33L620.82 534.16L621.53 534L622.25 533.83L622.96 533.66L623.68 533.49L624.39 533.32L625.11 533.15L625.82 532.99L626.54 532.54L627.25 532.1L627.97 531.66L628.68 531.22L629.4 530.78L630.11 530.34L630.83 529.89L631.54 529.45L632.26 529.01L632.97 528.57L633.69 528.13L634.4 527.35L635.12 526.57L635.83 525.8L636.55 525.02L637.26 524.24L637.98 523.47L638.69 522.69L639.41 521.91L640.12 521.13L640.84 520.36L641.55 519.77L642.27 519.19L642.98 518.61L643.7 518.03L644.41 517.44L645.13 518.03L645.84 518.61L646.56 519.19L647.27 519.77L647.99 520.36L648.7 518.03L649.42 515.69L650.13 513.36L650.85 511.03L651.56 508.7L652.28 507.92L652.99 507.15L653.71 506.37L654.42 505.59L655.14 504.81L655.85 504.04L656.57 503.26L657.28 502.48L658 501.71L658.71 500.93L659.43 500.1L660.14 499.26L660.86 498.43L661.57 497.6L662.29 496.77L663 495.93L663.72 495.1L664.43 495.1L665.15 495.1L665.86 497.04L666.58 498.99L667.29 500.93L668.01 502.87L668.72 504.81L669.44 503.45L670.15 502.09L670.87 500.73L671.58 499.37L672.3 498.01L673.01 496.27L673.73 494.52L674.44 492.77L675.16 491.02L675.87 489.27L676.59 488.11L677.3 486.94L678.02 485.77L678.73 484.61L679.45 483.44L680.16 484.61L680.88 485.77L681.59 486.94L682.31 488.11L683.02 489.27L683.74 488.46L684.45 487.65L685.17 486.84L685.88 486.03L686.6 485.22L687.31 484.41L688.03 484.74L688.74 485.06L689.46 485.39L690.17 485.71L690.89 486.03L691.6 486.36L692.32 486.68L693.03 487L693.75 487.33L694.46 487.65L695.18 487.98L695.89 488.3L696.61 488.69L697.32 489.08L698.04 489.47L698.75 489.85L699.47 490.24L700.18 488.95L700.9 487.65L701.62 486.36L702.33 491.21L703.05 496.07L703.76 500.93L704.48 503.36L705.19 505.79L705.91 508.21L706.62 510.64L707.34 510.16L708.05 509.67L708.77 509.19L709.48 508.7L710.2 508.21L710.91 507.73L711.63 508.38L712.34 509.02L713.06 509.67L713.77 510.64L714.49 511.61L715.2 512.59L715.92 513.56L716.63 514.53L717.35 515.5L718.06 516.47L718.78 517.44L719.49 518.41L720.21 519.39L720.92 520.36L721.64 521.33L722.35 522.3L723.07 523.27L723.78 523.95L724.5 524.63L725.21 525.31L725.93 525.99L726.64 526.67L727.36 527.35L728.07 528.03L728.79 528.71L729.5 529.39L730.22 530.07L730.93 530.21L731.65 530.35L732.36 530.49L733.08 530.63L733.79 530.77L734.51 530.9L735.22 531.04L735.94 531.77L736.65 532.5L737.37 533.23L738.08 533.96L738.8 531.53L739.51 529.1L740.23 529.1L740.94 529.1L741.66 529.1L742.37 529.1L743.09 529.1L743.8 529.1L744.52 532.01L745.23 534.93L745.95 534.99L746.66 535.05L747.38 535.1L748.09 535.16L748.81 535.22L749.52 535.28L750.24 535.34L750.95 535.39L751.67 535.45L752.38 535.51L753.1 535.45L753.81 535.38L754.53 535.32L755.24 535.25L755.96 535.19L756.67 535.12L757.39 535.3L758.1 535.47L758.82 535.64L759.53 535.81L760.25 535.99L760.96 536.16L761.68 536.33L762.39 536.5L763.11 536.68L763.82 536.87L764.54 537.07L765.25 537.26L765.97 537.45L766.68 537.65L767.4 537.84L768.11 538.04L768.83 537.87L769.54 537.7L770.26 537.54L770.97 537.37L771.69 537.2L772.4 537.04L773.12 536.87L773.83 535.96L774.55 535.06L775.26 534.15L775.98 534.64L776.69 535.12L777.41 535.61L778.12 536.09L778.84 537.32L779.55 538.56L780.27 539.79" fill="none" stroke="#5a6e96" stroke-width="2.3" stroke-linejoin="round"/>
<g fill="#fff" stroke="#5a6e96" stroke-width="1.1"><circle cx="451.36" cy="549.5" r="1.8"/><circle cx="494.97" cy="511.61" r="1.8"/><circle cx="538.59" cy="532.01" r="1.8"/><circle cx="582.21" cy="530.49" r="1.8"/><circle cx="625.82" cy="532.99" r="1.8"/><circle cx="669.44" cy="503.45" r="1.8"/><circle cx="713.06" cy="509.67" r="1.8"/><circle cx="756.67" cy="535.12" r="1.8"/></g>
<path d="M453.4 588.8L453.4 585.6L454.12 585.6L454.83 585.6L455.55 585.6L456.27 585.6L456.98 585.6L457.7 585.6L458.42 585.59L459.14 585.59L459.85 585.59L460.57 585.59L461.29 585.59L462 585.59L462.72 585.57L463.44 585.56L464.15 585.56L464.87 585.54L465.59 585.52L466.31 585.5L467.02 585.49L467.74 585.48L468.46 585.42L469.17 585.35L469.89 585.3L470.61 585.17L471.32 585.06L472.04 585.01L472.76 584.89L473.48 584.73L474.19 584.56L474.91 584.42L475.63 584L476.34 583.73L477.06 583.48L477.78 583.27L478.49 583.2L479.21 582.87L479.93 582.58L480.65 581.91L481.36 581.49L482.08 581.69L482.8 581.02L483.51 581.94L484.23 583.36L484.95 583.04L485.66 573.72L486.38 579.47L487.1 580.13L487.82 579.88L488.53 581.24L489.25 583.24L489.97 583.15L490.68 580.25L491.4 579.6L492.12 579.51L492.83 580.4L493.55 581.86L494.27 583.12L494.99 583.11L495.7 581.23L496.42 580.72L497.14 580.84L497.85 580.64L498.57 581.92L499.29 583.57L500 583.54L500.72 581.73L501.44 581.12L502.16 580.82L502.87 581.52L503.59 582.33L504.31 583.67L505.02 583.81L505.74 581.9L506.46 581.78L507.17 581.75L507.89 582.35L508.61 583.01L509.33 584.08L510.04 584.1L510.76 582.41L511.48 582.03L512.19 582.52L512.91 582.45L513.63 583.47L514.34 584.27L515.06 584.21L515.78 583.03L516.5 582.88L517.21 582.67L517.93 583.17L518.65 583.75L519.36 584.38L520.08 584.49L520.8 583.48L521.51 583.24L522.23 583.38L522.95 583.34L523.66 583.97L524.38 584.55L525.1 584.61L525.82 583.68L526.53 583.21L527.25 583.53L527.97 583.64L528.68 584.05L529.4 584.76L530.12 584.79L530.83 583.87L531.55 583.64L532.27 583.94L532.99 584.08L533.7 584.35L534.42 584.81L535.14 584.91L535.85 584.1L536.57 583.88L537.29 580.58L538 584.07L538.72 584.48L539.44 584.91L540.16 584.8L540.87 584.22L541.59 583.85L542.31 583.77L543.02 584.04L543.74 584.43L544.46 584.91L545.17 584.91L545.89 584.13L546.61 584.04L547.33 584.01L548.04 583.94L548.76 584.22L549.48 584.75L550.19 584.77L550.91 583.75L551.63 583.6L552.34 583.7L553.06 583.67L553.78 584.02L554.5 584.66L555.21 584.62L555.93 583.59L556.65 583.11L557.36 583.34L558.08 583.31L558.8 583.63L559.51 584.34L560.23 584.38L560.95 583.16L561.67 582.72L562.38 582.98L563.1 583.1L563.82 583.64L564.53 584.2L565.25 584.25L565.97 582.87L566.68 582.85L567.4 582.7L568.12 582.91L568.84 583.44L569.55 584.35L570.27 584.22L570.99 583.29L571.7 582.67L572.42 582.72L573.14 582.79L573.85 583.49L574.57 584.31L575.29 584.3L576.01 583.02L576.72 582.84L577.44 582.83L578.16 582.88L578.87 583.51L579.59 584.4L580.31 584.34L581.02 583.13L581.74 582.85L582.46 582.99L583.18 583.24L583.89 583.74L584.61 584.46L585.33 584.57L586.04 583.44L586.76 582.97L587.48 583.17L588.19 583.39L588.91 584.01L589.63 584.58L590.34 584.63L591.06 583.8L591.78 583.39L592.5 583.78L593.21 583.66L593.93 584.26L594.65 584.69L595.36 584.7L596.08 583.92L596.8 583.46L597.51 583.61L598.23 583.66L598.95 584.02L599.67 584.72L600.38 584.76L601.1 583.91L601.82 583.5L602.53 583.76L603.25 583.87L603.97 584.11L604.68 584.72L605.4 584.76L606.12 583.86L606.84 583.75L607.55 583.75L608.27 583.96L608.99 584.28L609.7 584.74L610.42 584.72L611.14 583.9L611.85 583.75L612.57 583.77L613.29 583.93L614.01 584.35L614.72 584.78L615.44 584.73L616.16 583.91L616.87 583.65L617.59 583.67L618.31 583.92L619.02 584.31L619.74 584.75L620.46 584.77L621.18 583.98L621.89 583.6L622.61 583.6L623.33 583.71L624.04 584.17L624.76 584.63L625.48 584.6L626.19 583.78L626.91 583.57L627.63 583.65L628.35 583.45L629.06 584.1L629.78 584.54L630.5 584.54L631.21 583.57L631.93 582.96L632.65 583.32L633.36 583.33L634.08 583.71L634.8 584.49L635.52 584.3L636.23 583.25L636.95 582.78L637.67 582.86L638.38 582.62L639.1 583.29L639.82 584.08L640.53 584.03L641.25 582.38L641.97 581.6L642.69 581.83L643.4 582.19L644.12 582.78L644.84 583.91L645.55 583.92L646.27 582.01L646.99 581.13L647.7 581.75L648.42 581.94L649.14 582.79L649.86 583.8L650.57 583.88L651.29 581.93L652.01 580.85L652.72 581.02L653.44 580.64L654.16 581.46L654.87 583.31L655.59 582.93L656.31 580.48L657.02 579.23L657.74 579.88L658.46 579.89L659.18 580.91L659.89 582.89L660.61 582.76L661.33 579.69L662.04 578.45L662.76 578.66L663.48 579.35L664.19 580.54L664.91 582.64L665.63 582.34L666.35 579.05L667.06 578.09L667.78 578.34L668.5 579.44L669.21 580.48L669.93 582.52L670.65 582.65L671.36 580.45L672.08 578.07L672.8 579.66L673.52 579.2L674.23 580.56L674.95 582.64L675.67 582.68L676.38 579.36L677.1 577.68L677.82 577.73L678.53 578.2L679.25 580.2L679.97 581.74L680.69 582.11L681.4 576.52L682.12 577.15L682.84 577.45L683.55 577.39L684.27 579.99L684.99 582.19L685.7 582.05L686.42 578.35L687.14 575.75L687.86 577.27L688.57 577.23L689.29 579.49L690.01 581.49L690.72 582.04L691.44 578.54L692.16 576.71L692.87 577.65L693.59 577.5L694.31 579.46L695.03 581.89L695.74 581.72L696.46 578.4L697.18 577.51L697.89 575.94L698.61 577.65L699.33 579.44L700.04 582.21L700.76 581.87L701.48 578.25L702.2 577.57L702.91 577.7L703.63 574.98L704.35 579.55L705.06 582.17L705.78 582.4L706.5 580.45L707.21 578.91L707.93 579.95L708.65 580.6L709.37 581.72L710.08 583.26L710.8 583.26L711.52 580.84L712.23 580.48L712.95 580.24L713.67 580.53L714.38 581.4L715.1 583.06L715.82 583.34L716.54 581.16L717.25 580.79L717.97 580.89L718.69 580.95L719.4 582.06L720.12 583.61L720.84 583.71L721.55 582.11L722.27 581.33L722.99 581.45L723.7 582.23L724.42 582.8L725.14 584.12L725.86 584.13L726.57 582.8L727.29 582.14L728.01 582.57L728.72 582.77L729.44 583.39L730.16 584.38L730.87 584.29L731.59 583.36L732.31 582.88L733.03 583.19L733.74 583.34L734.46 583.77L735.18 584.49L735.89 584.51L736.61 583.48L737.33 583.08L738.04 583.35L738.76 583.52L739.48 583.95L740.2 584.62L740.91 584.68L741.63 583.42L742.35 580.48L743.06 583.37L743.78 583.68L744.5 583.99L745.21 584.59L745.93 584.58L746.65 583.78L747.37 583.31L748.08 583.59L748.8 583.89L749.52 584.11L750.23 584.7L750.95 584.81L751.67 584.03L752.38 583.61L753.1 583.84L753.82 582.9L754.54 584.19L755.25 584.79L755.97 584.73L756.69 584.08L757.4 583.72L758.12 583.71L758.84 583.97L759.55 584.3L760.27 584.74L760.99 584.72L761.71 583.89L762.42 583.67L763.14 583.86L763.86 583.89L764.57 584.35L765.29 584.81L766.01 584.88L766.72 584.25L767.44 584.03L768.16 584.14L768.88 584.11L769.59 584.47L770.31 584.91L771.03 584.96L771.74 584.33L772.46 584.08L773.18 583.97L773.89 583.99L774.61 584.35L775.33 584.91L776.05 584.91L776.76 583.94L777.48 583.66L778.2 582.99L778.91 583.82L779.63 584.24L780.35 584.78L781.06 584.82L781.78 584.18L782.5 584.24L783.22 584.31L783.93 585.6L784.65 585.6L785.37 585.6L786.08 585.6L786.8 585.6L786.8 588.8Z" fill="rgba(47,69,84,0.09)" stroke="rgba(47,69,84,0.3)" stroke-width="0.5"/>
<rect x="453.4" y="569" width="333.4" height="19.8" fill="rgba(167,183,204,0.4)"/>
<rect x="554.3" y="386" width="25" height="14" rx="3.5" fill="#5a6e96"/>
<path d="M664.5 392.8H689.5" stroke="#8492b2" stroke-width="1.5"/><circle cx="677" cy="392.8" r="5" fill="#fff" stroke="#8492b2" stroke-width="1.5"/>
<g class="info"><circle cx="632.8" cy="372.2" r="5.6" fill="none" stroke="#555" stroke-width="1.1"/><rect x="632.1999999999999" y="371.2" width="1.2" height="4" fill="#555"/><rect x="632.1999999999999" y="368.8" width="1.2" height="1.3" fill="#555"/></g>
<g class="info"><circle cx="766.6" cy="372.2" r="5.6" fill="none" stroke="#1890ff" stroke-width="1.1"/><rect x="766.0" y="371.2" width="1.2" height="4" fill="#1890ff"/><rect x="766.0" y="368.8" width="1.2" height="1.3" fill="#1890ff"/></g>
</svg>
<span class="t" style="left:439.40px;top:543px;font-size:12.3px;color:#5b6e97;transform:scaleX(1.0228);">0</span>
<span class="t" style="left:422.20px;top:516px;font-size:12.3px;color:#5b6e97;transform:scaleX(1.0409);">1.4k</span>
<span class="t" style="left:422.20px;top:488px;font-size:12.3px;color:#5b6e97;transform:scaleX(1.0409);">2.8k</span>
<span class="t" style="left:422.20px;top:461px;font-size:12.3px;color:#5b6e97;transform:scaleX(1.0409);">4.2k</span>
<span class="t" style="left:422.20px;top:434px;font-size:12.3px;color:#5b6e97;transform:scaleX(1.0409);">5.6k</span>
<span class="t" style="left:433.00px;top:407px;font-size:12.3px;color:#5b6e97;transform:scaleX(1.0308);">7k</span>
<span class="t" style="left:421.60px;top:392px;font-size:11.3px;color:#5b6e97;transform:scaleX(0.9849);">Count</span>
<span class="t" style="left:438.65px;top:557px;font-size:12.5px;color:#999;transform:scaleX(1.0393);">2/29</span>
<span class="t" style="left:482.27px;top:557px;font-size:12.5px;color:#999;transform:scaleX(1.0393);">4/30</span>
<span class="t" style="left:525.88px;top:557px;font-size:12.5px;color:#999;transform:scaleX(1.0393);">6/30</span>
<span class="t" style="left:569.50px;top:557px;font-size:12.5px;color:#999;transform:scaleX(1.0393);">8/30</span>
<span class="t" style="left:609.62px;top:557px;font-size:12.5px;color:#999;transform:scaleX(1.0326);">10/30</span>
<span class="t" style="left:653.23px;top:557px;font-size:12.5px;color:#999;transform:scaleX(1.0326);">12/30</span>
<span class="t" style="left:703.85px;top:557px;font-size:12.5px;color:#999;transform:scaleX(1.0523);">3/1</span>
<span class="t" style="left:747.46px;top:557px;font-size:12.5px;color:#999;transform:scaleX(1.0523);">5/1</span>
<span class="t" style="left:584.80px;top:387px;font-size:12px;color:#333;transform:scaleX(1.0539);">New Deaths</span>
<span class="t" style="left:694.60px;top:387px;font-size:12px;color:#333;transform:scaleX(1.0833);">7-day Average</span>
<span class="t" style="left:483.30px;top:326px;font-size:10px;color:#666;">Filter the graph by selecting a state from the map below</span>
<span class="t" style="left:581.15px;top:341px;font-size:15px;font-weight:700;color:#222;transform:scaleX(0.9774);">Deaths</span>
<span class="t" style="left:464.50px;top:365px;font-size:12.5px;color:#333;transform:scaleX(0.9314);">New</span>
<span class="t" style="left:502.10px;top:365px;font-size:12.5px;color:#333;transform:scaleX(0.9739);">Cumulative</span>
<span class="t" style="left:577.30px;top:365px;font-size:12.5px;color:#333;transform:scaleX(0.9629);">Fatality</span>
<span class="t" style="left:643.60px;top:366px;font-size:12px;color:#333;transform:scaleX(0.9303);">Y-axis:</span>
<span class="t" style="left:689.30px;top:365px;font-size:12.5px;color:#333;transform:scaleX(0.9267);">value</span>
<span class="t" style="left:731.60px;top:365px;font-size:12.5px;color:#333;transform:scaleX(0.9528);">log</span>
</section>
<section id="chart-hospitalized" class="chart">
<svg width="1206" height="835" viewBox="0 0 1206 835">
<g fill="none" stroke="#f7f7f7" stroke-linecap="round" stroke-linejoin="round" transform="translate(793.2 6)"><path d="M204.5 430.6L215.5 434.6" stroke-width="6"/><path d="M172 459.5L210 447.5L239 446.5" stroke-width="6"/><path d="M192.5 468.5L201.5 495.5" stroke-width="4.5"/><path d="M192.5 468L217 462L237.500 463.200Q238 478 226 490.500" stroke-width="4.5"/><path d="M205 490.200L225 491" stroke-width="4"/><path d="M210 469.500L207.500 486" stroke-width="3.5"/><path d="M198.500 477L221.500 475.300" stroke-width="3.5"/></g>
<path d="M843 388.5H1182.55M843 419.5H1182.55M843 450.5H1182.55M843 482.5H1182.55M843 513.5H1182.55" stroke="#e8e8e8" stroke-width="1" fill="none"/>
<path d="M843 544.5H1182.55M843.5 544.5v5M887.5 544.5v5M931.5 544.5v5M975.5 544.5v5M1019.5 544.5v5M1063.5 544.5v5M1107.5 544.5v5M1151.5 544.5v5M1182.5 544.5v5" stroke="#a4a4a4" stroke-width="1" fill="none"/>
<path d="M843.33 544.9L844 544.9L844.67 544.9L845.33 544.9L846 544.9L846.67 544.9L847.34 544.9L848 544.9L848.67 544.9L849.34 544.9L850 544.9L850.67 544.9L851.34 544.9L852.01 544.9L852.67 544.9L853.34 544.9L854.01 544.9L854.67 544.9L855.34 544.9L856.01 544.9L856.68 544.9L857.34 544.9L858.01 544.9L858.68 544.9L859.34 544.9L860.01 544.9L860.68 544.9L861.35 544.9L862.01 544.9L862.68 544.9L863.35 544.9L864.01 544.9L864.68 544.9L865.35 544.9L866.01 544.9L866.68 544.9L867.35 544.9L868.02 544.9L868.68 544.9L869.35 544.9L870.02 544.9L870.68 544.9L871.35 544.9L872.02 544.9L872.69 544.9L873.35 544.9L874.02 544.9L874.69 544.9L875.35 544.9L876.02 544.9L876.69 544.9L877.36 544.9L878.02 544.9L878.69 544.9L879.36 544.9L880.02 544.9L880.69 544.9L881.36 544.9L882.02 544.9L882.69 544.9L883.36 544.9L884.03 544.82L884.69 544.73L885.36 544.65L886.03 544.56L886.69 544.48L887.36 544.4L888.03 544.31L888.7 543.96L889.36 543.22L890.03 542.47L890.7 541.72L891.36 540.97L892.03 539.08L892.7 536.05L893.37 533.01L894.03 528.9L894.7 522.27L895.37 515.64L896.03 510.91L896.7 506.99L897.37 504.37L898.04 503.06L898.7 501.76L899.37 500.51L900.04 499.5L900.7 498.03L901.37 496.57L902.04 496.57L902.7 496.22L903.37 497.19L904.04 492.98L904.71 492.72L905.37 490.75L906.04 488.63L906.71 489.41L907.37 487.22L908.04 488.83L908.71 486.15L909.38 486.2L910.04 484.54L910.71 483.89L911.38 485.46L912.04 484.15L912.71 483.86L913.38 481.47L914.05 482.04L914.71 484.8L915.38 483.21L916.05 486.5L916.71 485.32L917.38 487.5L918.05 488.31L918.71 485.37L919.38 488.2L920.05 488.51L920.72 485.96L921.38 490.69L922.05 488.2L922.72 480.98L923.38 482.54L924.05 483.98L924.72 487.98L925.39 487.7L926.05 491.13L926.72 490.94L927.39 491.89L928.05 494.8L928.72 495.46L929.39 497.19L930.06 498.27L930.72 499.57L931.39 498.55L932.06 497L932.72 498.85L933.39 495.9L934.06 497.62L934.73 498.74L935.39 497.83L936.06 499.71L936.73 500.33L937.39 499.71L938.06 498.86L938.73 501.3L939.39 498.07L940.06 502.1L940.73 499.82L941.4 499.91L942.06 503.47L942.73 501.07L943.4 503.17L944.06 502.89L944.73 505.54L945.4 501.03L946.07 499.58L946.73 497.79L947.4 501.77L948.07 500.79L948.73 501.26L949.4 500.2L950.07 501.43L950.74 500.38L951.4 499.19L952.07 497.81L952.74 499.88L953.4 497.03L954.07 496.41L954.74 494.31L955.41 495.38L956.07 489.94L956.74 491.13L957.41 488.04L958.07 483.66L958.74 479.14L959.41 477.95L960.07 475.12L960.74 476.21L961.41 476.76L962.08 477.22L962.74 478.75L963.41 480.14L964.08 479L964.74 473.26L965.41 468.4L966.08 468.51L966.75 468.6L967.41 464.73L968.08 466.1L968.75 467.1L969.41 468.26L970.08 467.44L970.75 467.29L971.42 469.49L972.08 470.43L972.75 474.9L973.42 477.06L974.08 479.4L974.75 475.98L975.42 473L976.08 475.84L976.75 474.57L977.42 474.73L978.09 476.92L978.75 477.34L979.42 480.91L980.09 480.69L980.75 482.77L981.42 481.17L982.09 484.25L982.76 484.31L983.42 482.92L984.09 484.14L984.76 484.33L985.42 486.96L986.09 487.49L986.76 488L987.43 489.32L988.09 490.57L988.76 491.43L989.43 492.77L990.09 493.49L990.76 493.7L991.43 494.4L992.1 495.48L992.76 496.3L993.43 497.17L994.1 498.14L994.76 498.58L995.43 498.51L996.1 498.91L996.76 500.05L997.43 500.02L998.1 500.54L998.77 501.15L999.43 501.66L1000.1 501.87L1000.77 502.7L1001.43 502.6L1002.1 503.46L1002.77 503.54L1003.44 503.51L1004.1 503.95L1004.77 504.78L1005.44 504.3L1006.1 505.01L1006.77 505.43L1007.44 506.48L1008.11 506.11L1008.77 506.7L1009.44 506.4L1010.11 506.88L1010.77 506.66L1011.44 506.91L1012.11 506.5L1012.77 506.83L1013.44 506.24L1014.11 505.89L1014.78 505.66L1015.44 506.2L1016.11 505.53L1016.78 505.44L1017.44 505.62L1018.11 505.2L1018.78 505.17L1019.45 505.28L1020.11 504.56L1020.78 504.31L1021.45 502.77L1022.11 501.94L1022.78 501.83L1023.45 501.06L1024.12 500.53L1024.78 500.02L1025.45 500.22L1026.12 498.96L1026.78 498.71L1027.45 498.2L1028.12 498.17L1028.79 497.58L1029.45 497.06L1030.12 496.89L1030.79 496.45L1031.45 496.83L1032.12 495.56L1032.79 494.11L1033.45 492.75L1034.12 492.19L1034.79 490.63L1035.46 490.03L1036.12 490.09L1036.79 488.88L1037.46 488.51L1038.12 487.62L1038.79 485.98L1039.46 484.21L1040.13 482.83L1040.79 481.28L1041.46 479.65L1042.13 477.09L1042.79 475.17L1043.46 472.86L1044.13 470.77L1044.8 469.38L1045.46 465.6L1046.13 465.43L1046.8 462.25L1047.46 460.3L1048.13 457.8L1048.8 456.28L1049.47 452.43L1050.13 451.28L1050.8 449.94L1051.47 447.27L1052.13 447.11L1052.8 444.73L1053.47 443.86L1054.13 441.76L1054.8 438.92L1055.47 437.26L1056.14 436.19L1056.8 433.31L1057.47 432.24L1058.14 432.19L1058.8 432.04L1059.47 430.32L1060.14 429.72L1060.81 428.15L1061.47 427.47L1062.14 427.63L1062.81 427.56L1063.47 425.66L1064.14 426.57L1064.81 424.97L1065.48 422.57L1066.14 421.11L1066.81 420.86L1067.48 418.39L1068.14 416.71L1068.81 417.45L1069.48 416.89L1070.14 416.92L1070.81 416.32L1071.48 413.96L1072.15 413.97L1072.81 411.29L1073.48 410.99L1074.15 415.09L1074.81 415.39L1075.48 410.7L1076.15 408.79L1076.82 407.02L1077.48 406.92L1078.15 405.06L1078.82 406.03L1079.48 407.85L1080.15 406.74L1080.82 404.86L1081.49 401.02L1082.15 399.74L1082.82 400.76L1083.49 400.31L1084.15 400.81L1084.82 402.68L1085.49 401.49L1086.16 402.08L1086.82 398.6L1087.49 396.5L1088.16 401.29L1088.82 405.27L1089.49 407.21L1090.16 406.98L1090.82 410.4L1091.49 411.81L1092.16 414L1092.83 415.93L1093.49 418.62L1094.16 421.09L1094.83 424.51L1095.49 426.35L1096.16 429.53L1096.83 431.77L1097.5 434.54L1098.16 437.12L1098.83 439.35L1099.5 441.96L1100.16 444.62L1100.83 446.48L1101.5 448.99L1102.17 452.01L1102.83 454.06L1103.5 456.13L1104.17 457.88L1104.83 459.97L1105.5 462.06L1106.17 464.38L1106.84 465.08L1107.5 467.12L1108.17 468.48L1108.84 469.85L1109.5 471.49L1110.17 473.3L1110.84 474.56L1111.5 477.01L1112.17 478.8L1112.84 480.02L1113.51 482.57L1114.17 484.11L1114.84 485.1L1115.51 487.71L1116.17 488.41L1116.84 490.24L1117.51 492.23L1118.18 493.42L1118.84 493.81L1119.51 494.66L1120.18 496.63L1120.84 497.22L1121.51 498.15L1122.18 498.9L1122.85 499.59L1123.51 500.29L1124.18 500.23L1124.85 500.43L1125.51 501.84L1126.18 502.12L1126.85 501.86L1127.51 502.2L1128.18 502.49L1128.85 503.42L1129.52 502.68L1130.18 502.49L1130.85 502.6L1131.52 503.1L1132.18 503.73L1132.85 502.55L1133.52 503.14L1134.19 502.42L1134.85 501.85L1135.52 501.96L1136.19 502.5L1136.85 502.11L1137.52 501.09L1138.19 501.82L1138.86 501.01L1139.52 501.03L1140.19 501.11L1140.86 500.3L1141.52 500.69L1142.19 500.17L1142.86 499.39L1143.53 499.34L1144.19 498.92L1144.86 497.83L1145.53 497.21L1146.19 496.83L1146.86 497.55L1147.53 496.96L1148.19 496.89L1148.86 496.32L1149.53 496.25L1150.2 495.47L1150.86 495.97L1151.53 496.72L1152.2 496.27L1152.86 497.3L1153.53 497.05L1154.2 497.59L1154.87 497.76L1155.53 498.88L1156.2 499.47L1156.87 500.6L1157.53 500.91L1158.2 501.96L1158.87 501.88L1159.54 502.67L1160.2 503.65L1160.87 504.02L1161.54 504.34L1162.2 504.38L1162.87 505.61L1163.54 505.62L1164.2 506.37L1164.87 507.75L1165.54 507.7L1166.21 509.1L1166.87 509.73L1167.54 509.8L1168.21 510.91L1168.87 510.78L1169.54 511.94L1170.21 512.8L1170.88 512.87L1171.54 514.46L1172.21 514.13L1172.88 515.51L1173.54 515.93L1174.21 515.46L1174.88 516.64L1175.55 517.32L1176.21 517.33L1176.88 517.34L1177.55 517.35L1178.21 517.36L1178.88 517.37L1179.55 517.38L1180.22 517.39L1180.88 517.4L1181.55 517.41L1182.22 517.43" fill="none" stroke="#ff6a0c" stroke-width="2.05" stroke-linejoin="round"/>
<g fill="#fff" stroke="#ff6a0c" stroke-width="1.1"><circle cx="843.33" cy="544.9" r="1.8"/><circle cx="887.36" cy="544.4" r="1.8"/><circle cx="931.39" cy="498.55" r="1.8"/><circle cx="975.42" cy="473" r="1.8"/><circle cx="1019.45" cy="505.28" r="1.8"/><circle cx="1063.47" cy="425.66" r="1.8"/><circle cx="1107.5" cy="467.12" r="1.8"/><circle cx="1151.53" cy="496.72" r="1.8"/></g>
<path d="M845.8 587.8L845.8 584.6L846.47 584.6L847.13 584.6L847.8 584.6L848.47 584.6L849.14 584.6L849.8 584.6L850.47 584.6L851.14 584.6L851.81 584.6L852.47 584.6L853.14 584.6L853.81 584.6L854.48 584.6L855.14 584.6L855.81 584.6L856.48 584.6L857.14 584.6L857.81 584.6L858.48 584.6L859.15 584.6L859.81 584.6L860.48 584.6L861.15 584.6L861.82 584.6L862.48 584.6L863.15 584.6L863.82 584.6L864.49 584.6L865.15 584.6L865.82 584.6L866.49 584.6L867.15 584.6L867.82 584.6L868.49 584.6L869.16 584.6L869.82 584.6L870.49 584.6L871.16 584.6L871.83 584.6L872.49 584.6L873.16 584.6L873.83 584.6L874.49 584.6L875.16 584.6L875.83 584.6L876.5 584.6L877.16 584.6L877.83 584.6L878.5 584.6L879.17 584.6L879.83 584.6L880.5 584.6L881.17 584.6L881.84 584.6L882.5 584.6L883.17 584.6L883.84 584.6L884.5 584.6L885.17 584.6L885.84 584.6L886.51 584.59L887.17 584.59L887.84 584.58L888.51 584.57L889.18 584.57L889.84 584.56L890.51 584.55L891.18 584.53L891.85 584.47L892.51 584.41L893.18 584.35L893.85 584.29L894.51 584.15L895.18 583.91L895.85 583.67L896.52 583.35L897.18 582.83L897.85 582.32L898.52 581.95L899.19 581.64L899.85 581.44L900.52 581.34L901.19 581.23L901.86 581.14L902.52 581.06L903.19 580.94L903.86 580.83L904.52 580.83L905.19 580.8L905.86 580.88L906.53 580.55L907.19 580.53L907.86 580.37L908.53 580.21L909.2 580.27L909.86 580.1L910.53 580.22L911.2 580.02L911.86 580.02L912.53 579.89L913.2 579.84L913.87 579.96L914.53 579.86L915.2 579.84L915.87 579.65L916.54 579.69L917.2 579.91L917.87 579.79L918.54 580.04L919.21 579.95L919.87 580.12L920.54 580.18L921.21 579.95L921.87 580.18L922.54 580.2L923.21 580L923.88 580.37L924.54 580.18L925.21 579.61L925.88 579.73L926.55 579.85L927.21 580.16L927.88 580.14L928.55 580.4L929.22 580.39L929.88 580.46L930.55 580.69L931.22 580.74L931.88 580.88L932.55 580.96L933.22 581.06L933.89 580.98L934.55 580.86L935.22 581.01L935.89 580.78L936.56 580.91L937.22 581L937.89 580.93L938.56 581.07L939.23 581.12L939.89 581.07L940.56 581.01L941.23 581.2L941.89 580.95L942.56 581.26L943.23 581.08L943.9 581.09L944.56 581.37L945.23 581.18L945.9 581.34L946.57 581.32L947.23 581.53L947.9 581.18L948.57 581.06L949.24 580.92L949.9 581.23L950.57 581.16L951.24 581.19L951.9 581.11L952.57 581.21L953.24 581.13L953.91 581.03L954.57 580.93L955.24 581.09L955.91 580.86L956.58 580.82L957.24 580.65L957.91 580.74L958.58 580.31L959.24 580.4L959.91 580.16L960.58 579.82L961.25 579.47L961.91 579.38L962.58 579.15L963.25 579.24L963.92 579.28L964.58 579.32L965.25 579.44L965.92 579.55L966.59 579.46L967.25 579.01L967.92 578.63L968.59 578.64L969.25 578.65L969.92 578.34L970.59 578.45L971.26 578.53L971.92 578.62L972.59 578.56L973.26 578.54L973.93 578.72L974.59 578.79L975.26 579.14L975.93 579.31L976.6 579.49L977.26 579.22L977.93 578.99L978.6 579.21L979.26 579.11L979.93 579.12L980.6 579.3L981.27 579.33L981.93 579.61L982.6 579.59L983.27 579.75L983.94 579.63L984.6 579.87L985.27 579.87L985.94 579.76L986.61 579.86L987.27 579.87L987.94 580.08L988.61 580.12L989.27 580.16L989.94 580.26L990.61 580.36L991.28 580.43L991.94 580.53L992.61 580.59L993.28 580.6L993.95 580.66L994.61 580.74L995.28 580.81L995.95 580.88L996.61 580.95L997.28 580.99L997.95 580.98L998.62 581.01L999.28 581.1L999.95 581.1L1000.62 581.14L1001.29 581.19L1001.95 581.23L1002.62 581.24L1003.29 581.31L1003.96 581.3L1004.62 581.37L1005.29 581.37L1005.96 581.37L1006.62 581.4L1007.29 581.47L1007.96 581.43L1008.63 581.49L1009.29 581.52L1009.96 581.6L1010.63 581.57L1011.3 581.62L1011.96 581.6L1012.63 581.63L1013.3 581.62L1013.97 581.64L1014.63 581.6L1015.3 581.63L1015.97 581.58L1016.63 581.56L1017.3 581.54L1017.97 581.58L1018.64 581.53L1019.3 581.52L1019.97 581.53L1020.64 581.5L1021.31 581.5L1021.97 581.51L1022.64 581.45L1023.31 581.43L1023.98 581.31L1024.64 581.25L1025.31 581.24L1025.98 581.18L1026.64 581.14L1027.31 581.1L1027.98 581.11L1028.65 581.01L1029.31 581L1029.98 580.96L1030.65 580.95L1031.32 580.91L1031.98 580.87L1032.65 580.85L1033.32 580.82L1033.99 580.85L1034.65 580.75L1035.32 580.64L1035.99 580.53L1036.65 580.49L1037.32 580.37L1037.99 580.32L1038.66 580.32L1039.32 580.23L1039.99 580.2L1040.66 580.13L1041.33 580L1041.99 579.86L1042.66 579.76L1043.33 579.64L1043.99 579.51L1044.66 579.31L1045.33 579.16L1046 578.98L1046.66 578.82L1047.33 578.71L1048 578.41L1048.67 578.4L1049.33 578.15L1050 578L1050.67 577.8L1051.34 577.68L1052 577.38L1052.67 577.29L1053.34 577.19L1054 576.98L1054.67 576.97L1055.34 576.78L1056.01 576.72L1056.67 576.55L1057.34 576.33L1058.01 576.2L1058.68 576.12L1059.34 575.89L1060.01 575.81L1060.68 575.81L1061.35 575.79L1062.01 575.66L1062.68 575.61L1063.35 575.49L1064.01 575.44L1064.68 575.45L1065.35 575.44L1066.02 575.29L1066.68 575.37L1067.35 575.24L1068.02 575.05L1068.69 574.94L1069.35 574.92L1070.02 574.73L1070.69 574.6L1071.36 574.65L1072.02 574.61L1072.69 574.61L1073.36 574.57L1074.02 574.38L1074.69 574.38L1075.36 574.17L1076.03 574.15L1076.69 574.47L1077.36 574.49L1078.03 574.13L1078.7 573.98L1079.36 573.84L1080.03 573.83L1080.7 573.69L1081.36 573.76L1082.03 573.91L1082.7 573.82L1083.37 573.67L1084.03 573.37L1084.7 573.27L1085.37 573.35L1086.04 573.32L1086.7 573.36L1087.37 573.5L1088.04 573.41L1088.71 573.46L1089.37 573.18L1090.04 573.02L1090.71 573.39L1091.37 573.7L1092.04 573.86L1092.71 573.84L1093.38 574.1L1094.04 574.21L1094.71 574.39L1095.38 574.54L1096.05 574.75L1096.71 574.94L1097.38 575.21L1098.05 575.35L1098.72 575.6L1099.38 575.77L1100.05 575.99L1100.72 576.19L1101.38 576.36L1102.05 576.57L1102.72 576.77L1103.39 576.92L1104.05 577.12L1104.72 577.35L1105.39 577.51L1106.06 577.67L1106.72 577.81L1107.39 577.97L1108.06 578.14L1108.73 578.32L1109.39 578.37L1110.06 578.53L1110.73 578.64L1111.39 578.74L1112.06 578.87L1112.73 579.01L1113.4 579.11L1114.06 579.3L1114.73 579.44L1115.4 579.54L1116.07 579.74L1116.73 579.86L1117.4 579.93L1118.07 580.14L1118.74 580.19L1119.4 580.33L1120.07 580.49L1120.74 580.58L1121.4 580.61L1122.07 580.68L1122.74 580.83L1123.41 580.88L1124.07 580.95L1124.74 581.01L1125.41 581.06L1126.08 581.12L1126.74 581.11L1127.41 581.13L1128.08 581.24L1128.74 581.26L1129.41 581.24L1130.08 581.27L1130.75 581.29L1131.41 581.36L1132.08 581.31L1132.75 581.29L1133.42 581.3L1134.08 581.34L1134.75 581.39L1135.42 581.3L1136.09 581.34L1136.75 581.29L1137.42 581.24L1138.09 581.25L1138.75 581.29L1139.42 581.26L1140.09 581.18L1140.76 581.24L1141.42 581.18L1142.09 581.18L1142.76 581.18L1143.43 581.12L1144.09 581.15L1144.76 581.11L1145.43 581.05L1146.1 581.04L1146.76 581.01L1147.43 580.93L1148.1 580.88L1148.76 580.85L1149.43 580.9L1150.1 580.86L1150.77 580.85L1151.43 580.81L1152.1 580.8L1152.77 580.74L1153.44 580.78L1154.1 580.84L1154.77 580.81L1155.44 580.89L1156.11 580.87L1156.77 580.91L1157.44 580.92L1158.11 581.01L1158.77 581.06L1159.44 581.14L1160.11 581.17L1160.78 581.25L1161.44 581.24L1162.11 581.3L1162.78 581.38L1163.45 581.41L1164.11 581.44L1164.78 581.44L1165.45 581.53L1166.11 581.53L1166.78 581.59L1167.45 581.7L1168.12 581.7L1168.78 581.81L1169.45 581.86L1170.12 581.86L1170.79 581.95L1171.45 581.94L1172.12 582.03L1172.79 582.1L1173.46 582.1L1174.12 582.22L1174.79 582.2L1175.46 582.31L1176.12 582.34L1176.79 582.3L1177.46 582.39L1178.13 582.45L1178.79 582.45L1179.46 582.45L1180.13 582.45L1180.8 582.45L1181.46 582.45L1182.13 582.45L1182.8 582.45L1183.47 582.45L1184.13 582.46L1184.8 582.46L1184.8 587.8Z" fill="rgba(47,69,84,0.09)" stroke="rgba(47,69,84,0.3)" stroke-width="0.5"/>
<rect x="845.8" y="568.5" width="339" height="19.3" fill="rgba(167,183,204,0.4)"/>
<path d="M1175.2 546.9H1178.6L1192.4 389.8H1175.2Z" fill="rgba(47,69,84,0.09)"/>
<path d="M1178.6 546.9L1192.4 389.8" fill="none" stroke="rgba(47,69,84,0.3)" stroke-width="0.5"/>
<rect x="1175.2" y="389.8" width="19.6" height="157.1" fill="rgba(167,183,204,0.4)"/>
<path d="M1028.5 369H1053.5" stroke="#ff883c" stroke-width="1.5"/><circle cx="1041" cy="369" r="5" fill="#fff" stroke="#ff883c" stroke-width="1.5"/>
</svg>
<span class="t" style="left:832.90px;top:538px;font-size:12.3px;color:#999;transform:scaleX(1.0228);">0</span>
<span class="t" style="left:818.40px;top:507px;font-size:12.3px;color:#999;transform:scaleX(1.0843);">30k</span>
<span class="t" style="left:818.40px;top:476px;font-size:12.3px;color:#999;transform:scaleX(1.0843);">60k</span>
<span class="t" style="left:818.40px;top:444px;font-size:12.3px;color:#999;transform:scaleX(1.0843);">90k</span>
<span class="t" style="left:811.70px;top:413px;font-size:12.3px;color:#999;transform:scaleX(1.0573);">120k</span>
<span class="t" style="left:811.70px;top:382px;font-size:12.3px;color:#999;transform:scaleX(1.0573);">150k</span>
<span class="t" style="left:808.70px;top:362px;font-size:11.3px;color:#999;transform:scaleX(0.9816);">Count</span>
<span class="t" style="left:830.65px;top:553px;font-size:12.5px;color:#999;transform:scaleX(1.0393);">1/13</span>
<span class="t" style="left:874.68px;top:553px;font-size:12.5px;color:#999;transform:scaleX(1.0393);">3/19</span>
<span class="t" style="left:918.71px;top:553px;font-size:12.5px;color:#999;transform:scaleX(1.0393);">5/24</span>
<span class="t" style="left:962.73px;top:553px;font-size:12.5px;color:#999;transform:scaleX(1.0393);">7/29</span>
<span class="t" style="left:1006.76px;top:553px;font-size:12.5px;color:#999;transform:scaleX(1.0393);">10/3</span>
<span class="t" style="left:1050.79px;top:553px;font-size:12.5px;color:#999;transform:scaleX(1.0393);">12/8</span>
<span class="t" style="left:1094.82px;top:553px;font-size:12.5px;color:#999;transform:scaleX(1.0393);">2/12</span>
<span class="t" style="left:1138.85px;top:553px;font-size:12.5px;color:#999;transform:scaleX(1.0393);">4/19</span>
<span class="t" style="left:1059.00px;top:363px;font-size:12px;color:#333;transform:scaleX(1.0819);">Currently Hospitalized</span>
<span class="t" style="left:1001.60px;top:569px;font-size:10.5px;color:#9a9da8;transform:scaleX(1.0471);">date</span>
<span class="t" style="left:959.00px;top:341px;font-size:15px;font-weight:700;color:#222;transform:scaleX(0.9959);">Hospitalized</span>
</section>
<section id="chart-tests" class="chart">
<div class="b toggle" style="left:260.1px;top:626.7px;width:131.79999999999995px;height:22.09999999999991px;border:1px solid #d3e8f0;border-radius:11.049999999999955px;background:#fff;box-shadow:0 0 2px rgba(160,200,215,.45)"></div>
<div class="b toggle-on" style="left:301.2px;top:627.4000000000001px;width:90.0px;height:20.69999999999991px;border-radius:11.049999999999955px;background:#c9e5ee"></div>
<svg width="1206" height="835" viewBox="0 0 1206 835">
<path d="M73.8 655.5H538.3M73.8 676.5H538.3M73.8 698.5H538.3M73.8 720.5H538.3M73.8 741.5H538.3M73.8 763.5H538.3M73.8 784.5H538.3" stroke="#e8e8e8" stroke-width="1" fill="none"/>
<path d="M73.8 806.5H538.3M73.5 806.5v5M118.5 806.5v5M162.5 806.5v5M206.5 806.5v5M251.5 806.5v5M295.5 806.5v5M339.5 806.5v5M384.5 806.5v5M428.5 806.5v5M472.5 806.5v5M517.5 806.5v5M538.5 806.5v5" stroke="#a4a4a4" stroke-width="1" fill="none"/>
<path d="M73.8 806.3V806.3H74.86V805.58H75.91V804.87H76.97V804.14H78.02V803.42H79.08V802.74H80.13V802.22H81.19V801.59H82.25V801.12H83.3V800.59H84.36V799.94H85.41V799.48H86.47V799.06H87.52V798.76H88.58V798.37H89.64V798.11H90.69V797.65H91.75V797.24H92.8V796.95H93.86V796.75H94.91V796.61H95.97V796.6H97.03V796.28H98.08V796.17H99.14V796.08H100.19V796H101.25V795.74H102.3V795.78H103.36V795.67H104.41V795.58H105.47V795.57H106.53V795.46H107.58V795.55H108.64V794.84H109.69V794.34H110.75V793.59H111.8V793.01H112.86V792.66H113.92V792.05H114.97V791.52H116.03V790.73H117.08V790.41H118.14V789.83H119.19V789.44H120.25V788.85H121.31V788.38H122.36V787.79H123.42V787.06H124.47V786.45H125.53V785.67H126.58V785.16H127.64V784.42H128.7V783.83H129.75V782.91H130.81V782.25H131.86V781.71H132.92V780.45H133.97V779.54H135.03V778.73H136.09V771.75H137.14V771.05H138.2V770.91H139.25V769.8H140.31V769.44H141.36V769.13H142.42V775.73H143.47V774.99H144.53V774.75H145.59V775.28H146.64V774.6H147.7V774.75H148.75V774.59H149.81V774.12H150.86V773.39H151.92V772.95H152.98V773.25H154.03V772.43H155.09V772.63H156.14V771.81H157.2V771.86H158.25V771.13H159.31V770.77H160.37V770.91H161.42V770.21H162.48V770.54H163.53V770.53H164.59V769.87H165.64V770.17H166.7V769.82H167.76V769.43H168.81V769.04H169.87V769.24H170.92V768.63H171.98V767.15H173.03V766.96H174.09V765.62H175.15V764.95H176.2V764.75H177.26V763.94H178.31V763.16H179.37V762.32H180.42V761.65H181.48V760.97H182.54V760.18H183.59V759.1H184.65V758.87H185.7V758.24H186.76V757.18H187.81V757.03H188.87V756.24H189.92V754.7H190.98V754.54H192.04V754.32H193.09V754.81H194.15V754.13H195.2V753.74H196.26V753.26H197.31V751.3H198.37V750.07H199.43V749.66H200.48V747.68H201.54V746.71H202.59V745.97H203.65V746.01H204.7V745.06H205.76V744.58H206.82V745.21H207.87V745.01H208.93V743.95H209.98V743.38H211.04V744.3H212.09V743.85H213.15V744.13H214.21V745.01H215.26V745.42H216.32V745.97H217.37V746.37H218.43V746.52H219.48V747.52H220.54V747.98H221.6V748H222.65V749.61H223.71V749.44H224.76V748.63H225.82V748.65H226.87V748.2H227.93V746.8H228.99V747.03H230.04V747.53H231.1V747.61H232.15V747.67H233.21V748.94H234.26V749.06H235.32V748.86H236.37V747.99H237.43V748.36H238.49V747.6H239.54V748.38H240.6V747.97H241.65V747.34H242.71V746.83H243.76V747.27H244.82V747.41H245.88V747.38H246.93V746.62H247.99V746.92H249.04V745.86H250.1V745.63H251.15V746.4H252.21V747.12H253.27V747.23H254.32V748.33H255.38V748.97H256.43V750.46H257.49V750.93H258.54V750.89H259.6V750.4H260.66V751.27H261.71V749.62H262.77V747.97H263.82V746.41H264.88V744.88H265.93V742.55H266.99V742.16H268.05V741.69H269.1V739.49H270.16V738.86H271.21V737.96H272.27V738.14H273.32V736.57H274.38V735.88H275.44V736.35H276.49V735.05H277.55V734.48H278.6V734.37H279.66V734.2H280.71V734.19H281.77V733.69H282.82V733.49H283.88V733.48H284.94V732.27H285.99V732.52H287.05V731.3H288.1V732.38H289.16V730.02H290.21V729.57H291.27V728.32H292.33V727.54H293.38V726.71H294.44V726.49H295.49V726.76H296.55V724.89H297.6V725.56H298.66V724.87H299.72V723.7H300.77V723.52H301.83V723.3H302.88V721.8H303.94V722H304.99V721.63H306.05V720.89H307.11V718.7H308.16V718.58H309.22V717.01H310.27V717H311.33V716.42H312.38V714.25H313.44V712.18H314.5V712.2H315.55V709.34H316.61V707.59H317.66V706.41H318.72V704.61H319.77V704.86H320.83V701.58H321.89V699.23H322.94V699.58H324V697.27H325.05V695.54H326.11V692.45H327.16V690.35H328.22V687.81H329.27V684.54H330.33V684.42H331.39V681.89H332.44V679.68H333.5V677.7H334.55V675.88H335.61V670.98H336.66V669.33H337.72V675.25H338.78V677.38H339.83V681.39H340.89V684.83H341.94V688.16H343V689H344.05V690.85H345.11V693.14H346.17V690.47H347.22V686.93H348.28V684.39H349.33V679.95H350.39V676.29H351.44V676.47H352.5V676.55H353.56V675.39H354.61V673.91H355.67V672.31H356.72V670.73H357.78V671.02H358.83V668.64H359.89V668.22H360.95V667.84H362V668.18H363.06V667.92H364.11V667.37H365.17V668.45H366.22V667.69H367.28V670.98H368.34V674.18H369.39V675.77H370.45V677.8H371.5V682.08H372.56V683.41H373.61V685.79H374.67V686.9H375.72V689.16H376.78V693.11H377.84V689.99H378.89V688.6H379.95V688.41H381V684.25H382.06V681.69H383.11V675.98H384.17V672.85H385.23V668.5H386.28V667H387.34V665.62H388.39V663.59H389.45V662.37H390.5V664.52H391.56V663.44H392.62V666H393.67V666.1H394.73V664.53H395.78V667.95H396.84V668.74H397.89V669.66H398.95V668.04H400.01V671.3H401.06V672.75H402.12V671.07H403.17V674.34H404.23V672.99H405.28V674.49H406.34V674.95H407.4V675.55H408.45V677.86H409.51V678.35H410.56V681.81H411.62V680.76H412.67V682.67H413.73V683.31H414.79V686.31H415.84V685.68H416.9V686.4H417.95V690.1H419.01V690.59H420.06V691.15H421.12V693.61H422.17V698.32H423.23V701.62H424.29V704.59H425.34V706.86H426.4V707.74H427.45V709.78H428.51V711.03H429.56V708.82H430.62V706.78H431.68V704.46H432.73V703.15H433.79V699.95H434.84V698.38H435.9V699.46H436.95V698.24H438.01V699.39H439.07V699.18H440.12V700.17H441.18V701.53H442.23V703.07H443.29V704.3H444.34V704.51H445.4V704.5H446.46V706.9H447.51V707.62H448.57V706.67H449.62V706.87H450.68V708.17H451.73V708.71H452.79V708.42H453.85V710.02H454.9V710.19H455.96V710.71H457.01V710.17H458.07V711.15H459.12V711.61H460.18V710.83H461.24V710.51H462.29V712.27H463.35V711.61H464.4V712.54H465.46V711.82H466.51V712.7H467.57V713.17H468.62V713.04H469.68V713.24H470.74V711.97H471.79V711.95H472.85V712.19H473.9V710.62H474.96V709.56H476.01V707.35H477.07V707.7H478.13V704.51H479.18V706.11H480.24V706.18H481.29V706.85H482.35V706.34H483.4V706.73H484.46V707.72H485.52V707.9H486.57V707.33H487.63V707.01H488.68V708.09H489.74V707.3H490.79V706.77H491.85V706.86H492.91V706.35H493.96V705.27H495.02V703.01H496.07V703.83H497.13V703.87H498.18V704.85H499.24V707.04H500.3V708.45H501.35V709.57H502.41V711.02H503.46V711.13H504.52V712.08H505.57V712.57H506.63V714.58H507.69V713.81H508.74V715.59H509.8V715.93H510.85V717.14H511.91V720.36H512.96V722.2H514.02V722.57H515.07V725.51H516.13V726.67H517.19V727.54H518.24V728.66H519.3V731.17H520.35V731.86H521.41V732.28H522.46V732.79H523.52V733.87H524.58V733.82H525.63V733.78H526.69V735.35H527.74V735.81H528.8V737.24H529.85V737.69H530.91V737.76H531.97V741.52H533.02V743.2H534.08V746.07H535.13V749.37H536.19V750.38H537.24V753.29H538.3V806.3Z" fill="#26b29e"/>
<path d="M73.8 806.3V806.1H74.86V806.06H75.91V806.01H76.97V805.96H78.02V805.91H79.08V805.85H80.13V805.79H81.19V805.72H82.25V805.66H83.3V805.58H84.36V805.49H85.41V805.39H86.47V805.29H87.52V805.19H88.58V805.08H89.64V804.97H90.69V804.93H91.75V804.89H92.8V804.85H93.86V804.81H94.91V804.76H95.97V804.73H97.03V804.72H98.08V804.72H99.14V804.71H100.19V804.7H101.25V804.69H102.3V804.68H103.36V804.67H104.41V804.67H105.47V804.66H106.53V804.65H107.58V804.64H108.64V804.64H109.69V804.63H110.75V804.63H111.8V804.63H112.86V804.63H113.92V804.63H114.97V804.63H116.03V804.63H117.08V804.63H118.14V804.63H119.19V804.63H120.25V804.64H121.31V804.65H122.36V804.67H123.42V804.69H124.47V804.7H125.53V804.72H126.58V804.74H127.64V804.76H128.7V804.78H129.75V804.8H130.81V804.78H131.86V804.77H132.92V804.76H133.97V804.74H135.03V804.73H136.09V804.71H137.14V804.7H138.2V804.68H139.25V804.67H140.31V804.66H141.36V804.66H142.42V804.66H143.47V804.65H144.53V804.65H145.59V804.65H146.64V804.65H147.7V804.65H148.75V804.65H149.81V804.65H150.86V804.65H151.92V804.65H152.98V804.65H154.03V804.64H155.09V804.62H156.14V804.6H157.2V804.59H158.25V804.58H159.31V804.57H160.37V804.56H161.42V804.56H162.48V804.55H163.53V804.54H164.59V804.49H165.64V804.41H166.7V804.33H167.76V804.25H168.81V804.17H169.87V804.09H170.92V804.01H171.98V803.93H173.03V803.81H174.09V803.69H175.15V803.57H176.2V803.45H177.26V803.33H178.31V803.21H179.37V803.09H180.42V802.97H181.48V802.85H182.54V802.73H183.59V802.61H184.65V802.5H185.7V802.39H186.76V802.28H187.81V802.17H188.87V802.06H189.92V801.96H190.98V801.85H192.04V801.74H193.09V801.63H194.15V801.52H195.2V801.49H196.26V801.46H197.31V801.44H198.37V801.41H199.43V801.38H200.48V801.35H201.54V801.32H202.59V801.31H203.65V801.33H204.7V801.34H205.76V801.36H206.82V801.37H207.87V801.39H208.93V801.4H209.98V801.42H211.04V801.43H212.09V801.45H213.15V801.52H214.21V801.6H215.26V801.67H216.32V801.75H217.37V801.82H218.43V801.9H219.48V801.97H220.54V802.05H221.6V802.12H222.65V802.2H223.71V802.27H224.76V802.34H225.82V802.4H226.87V802.46H227.93V802.52H228.99V802.58H230.04V802.64H231.1V802.71H232.15V802.77H233.21V802.83H234.26V802.89H235.32V802.91H236.37V802.92H237.43V802.94H238.49V802.96H239.54V802.98H240.6V803H241.65V803.02H242.71V803.04H243.76V803.06H244.82V803.07H245.88V803.09H246.93V803.11H247.99V803.13H249.04V803.18H250.1V803.24H251.15V803.3H252.21V803.36H253.27V803.43H254.32V803.49H255.38V803.55H256.43V803.61H257.49V803.68H258.54V803.61H259.6V803.55H260.66V803.49H261.71V803.42H262.77V803.36H263.82V803.3H264.88V803.23H265.93V803.17H266.99V803.13H268.05V803.12H269.1V803.1H270.16V803.09H271.21V803.08H272.27V803.06H273.32V803.05H274.38V803.04H275.44V803.02H276.49V803.01H277.55V803H278.6V802.98H279.66V802.97H280.71V802.95H281.77V802.9H282.82V802.85H283.88V802.8H284.94V802.75H285.99V802.7H287.05V802.65H288.1V802.6H289.16V802.55H290.21V802.5H291.27V802.45H292.33V802.4H293.38V802.35H294.44V802.28H295.49V802.16H296.55V802.04H297.6V801.92H298.66V801.81H299.72V801.69H300.77V801.57H301.83V801.45H302.88V801.34H303.94V801.22H304.99V801.1H306.05V800.96H307.11V800.82H308.16V800.68H309.22V800.54H310.27V800.4H311.33V800.26H312.38V800.12H313.44V799.98H314.5V799.67H315.55V799.24H316.61V798.8H317.66V798.37H318.72V797.94H319.77V797.51H320.83V797.08H321.89V796.64H322.94V796.21H324V795.78H325.05V795.43H326.11V795.19H327.16V794.96H328.22V794.72H329.27V794.48H330.33V794.25H331.39V794.01H332.44V793.89H333.5V793.77H334.55V793.65H335.61V793.53H336.66V793.41H337.72V793.29H338.78V793.17H339.83V793.05H340.89V792.93H341.94V792.75H343V792.56H344.05V792.37H345.11V792.18H346.17V791.99H347.22V791.8H348.28V791.62H349.33V791.43H350.39V791.24H351.44V791.05H352.5V790.99H353.56V790.98H354.61V790.97H355.67V790.96H356.72V790.95H357.78V790.94H358.83V790.93H359.89V790.92H360.95V790.81H362V790.7H363.06V790.59H364.11V790.49H365.17V790.65H366.22V791.23H367.28V791.81H368.34V792.25H369.39V792.34H370.45V792.44H371.5V792.54H372.56V792.63H373.61V792.73H374.67V792.83H375.72V792.16H376.78V791.49H377.84V790.82H378.89V790.15H379.95V789.48H381V788.79H382.06V788.1H383.11V787.57H384.17V787.66H385.23V787.76H386.28V787.86H387.34V787.96H388.39V788.1H389.45V788.61H390.5V789.12H391.56V789.63H392.62V790.14H393.67V790.64H394.73V791.14H395.78V791.64H396.84V792.14H397.89V792.64H398.95V793.14H400.01V793.43H401.06V793.71H402.12V793.98H403.17V794.26H404.23V794.54H405.28V794.81H406.34V795.09H407.4V795.36H408.45V795.64H409.51V795.94H410.56V796.25H411.62V796.57H412.67V796.88H413.73V797.19H414.79V797.5H415.84V797.81H416.9V798.12H417.95V798.43H419.01V798.74H420.06V799.03H421.12V799.31H422.17V799.59H423.23V799.87H424.29V800.15H425.34V800.42H426.4V800.7H427.45V800.98H428.51V801.02H429.56V801.05H430.62V801.09H431.68V801.12H432.73V801.16H433.79V801.19H434.84V801.23H435.9V801.3H436.95V801.37H438.01V801.45H439.07V801.52H440.12V801.6H441.18V801.68H442.23V801.75H443.29V801.83H444.34V801.91H445.4V801.98H446.46V802.06H447.51V802.08H448.57V802.09H449.62V802.11H450.68V802.13H451.73V802.14H452.79V802.16H453.85V802.18H454.9V802.2H455.96V802.21H457.01V802.23H458.07V802.17H459.12V802.09H460.18V802H461.24V801.92H462.29V801.84H463.35V801.76H464.4V801.68H465.46V801.59H466.51V801.59H467.57V801.58H468.62V801.58H469.68V801.57H470.74V801.57H471.79V801.56H472.85V801.56H473.9V801.54H474.96V801.49H476.01V801.45H477.07V801.4H478.13V801.36H479.18V801.31H480.24V801.26H481.29V801.22H482.35V801.17H483.4V801.13H484.46V801.1H485.52V801.16H486.57V801.21H487.63V801.27H488.68V801.32H489.74V801.38H490.79V801.48H491.85V801.58H492.91V801.68H493.96V801.78H495.02V801.87H496.07V801.97H497.13V802.07H498.18V802.17H499.24V802.27H500.3V802.37H501.35V802.47H502.41V802.57H503.46V802.67H504.52V802.77H505.57V802.87H506.63V802.97H507.69V803.06H508.74V803.15H509.8V803.24H510.85V803.33H511.91V803.42H512.96V803.51H514.02V803.6H515.07V803.69H516.13V803.78H517.19V803.86H518.24V803.94H519.3V804.01H520.35V804.08H521.41V804.16H522.46V804.23H523.52V804.3H524.58V804.38H525.63V804.45H526.69V804.52H527.74V804.6H528.8V804.67H529.85V804.74H530.91V804.82H531.97V804.89H533.02V804.96H534.08V805.04H535.13V805.11H536.19V805.19H537.24V805.25H538.3V806.3Z" fill="#d53a35"/>
<defs><linearGradient id="mg" x1="0" x2="1" y1="0" y2="0"><stop offset="0" stop-color="#fff" stop-opacity="0"/><stop offset="0.05" stop-color="#fff" stop-opacity="0.048"/><stop offset="0.1" stop-color="#fff" stop-opacity="0.09"/><stop offset="0.15" stop-color="#fff" stop-opacity="0.128"/><stop offset="0.2" stop-color="#fff" stop-opacity="0.16"/><stop offset="0.3" stop-color="#fff" stop-opacity="0.21"/><stop offset="0.4" stop-color="#fff" stop-opacity="0.24"/><stop offset="0.5" stop-color="#fff" stop-opacity="0.25"/><stop offset="0.6" stop-color="#fff" stop-opacity="0.24"/><stop offset="0.7" stop-color="#fff" stop-opacity="0.21"/><stop offset="0.8" stop-color="#fff" stop-opacity="0.16"/><stop offset="0.85" stop-color="#fff" stop-opacity="0.128"/><stop offset="0.9" stop-color="#fff" stop-opacity="0.09"/><stop offset="0.95" stop-color="#fff" stop-opacity="0.048"/><stop offset="1" stop-color="#fff" stop-opacity="0"/></linearGradient><pattern id="mp" patternUnits="userSpaceOnUse" x="322.9" y="0" width="20.95" height="200"><rect x="0" y="0" width="20.95" height="200" fill="url(#mg)"/></pattern></defs>
<path d="M73.8 806.3V806.3H74.86V805.58H75.91V804.87H76.97V804.14H78.02V803.42H79.08V802.74H80.13V802.22H81.19V801.59H82.25V801.12H83.3V800.59H84.36V799.94H85.41V799.48H86.47V799.06H87.52V798.76H88.58V798.37H89.64V798.11H90.69V797.65H91.75V797.24H92.8V796.95H93.86V796.75H94.91V796.61H95.97V796.6H97.03V796.28H98.08V796.17H99.14V796.08H100.19V796H101.25V795.74H102.3V795.78H103.36V795.67H104.41V795.58H105.47V795.57H106.53V795.46H107.58V795.55H108.64V794.84H109.69V794.34H110.75V793.59H111.8V793.01H112.86V792.66H113.92V792.05H114.97V791.52H116.03V790.73H117.08V790.41H118.14V789.83H119.19V789.44H120.25V788.85H121.31V788.38H122.36V787.79H123.42V787.06H124.47V786.45H125.53V785.67H126.58V785.16H127.64V784.42H128.7V783.83H129.75V782.91H130.81V782.25H131.86V781.71H132.92V780.45H133.97V779.54H135.03V778.73H136.09V771.75H137.14V771.05H138.2V770.91H139.25V769.8H140.31V769.44H141.36V769.13H142.42V775.73H143.47V774.99H144.53V774.75H145.59V775.28H146.64V774.6H147.7V774.75H148.75V774.59H149.81V774.12H150.86V773.39H151.92V772.95H152.98V773.25H154.03V772.43H155.09V772.63H156.14V771.81H157.2V771.86H158.25V771.13H159.31V770.77H160.37V770.91H161.42V770.21H162.48V770.54H163.53V770.53H164.59V769.87H165.64V770.17H166.7V769.82H167.76V769.43H168.81V769.04H169.87V769.24H170.92V768.63H171.98V767.15H173.03V766.96H174.09V765.62H175.15V764.95H176.2V764.75H177.26V763.94H178.31V763.16H179.37V762.32H180.42V761.65H181.48V760.97H182.54V760.18H183.59V759.1H184.65V758.87H185.7V758.24H186.76V757.18H187.81V757.03H188.87V756.24H189.92V754.7H190.98V754.54H192.04V754.32H193.09V754.81H194.15V754.13H195.2V753.74H196.26V753.26H197.31V751.3H198.37V750.07H199.43V749.66H200.48V747.68H201.54V746.71H202.59V745.97H203.65V746.01H204.7V745.06H205.76V744.58H206.82V745.21H207.87V745.01H208.93V743.95H209.98V743.38H211.04V744.3H212.09V743.85H213.15V744.13H214.21V745.01H215.26V745.42H216.32V745.97H217.37V746.37H218.43V746.52H219.48V747.52H220.54V747.98H221.6V748H222.65V749.61H223.71V749.44H224.76V748.63H225.82V748.65H226.87V748.2H227.93V746.8H228.99V747.03H230.04V747.53H231.1V747.61H232.15V747.67H233.21V748.94H234.26V749.06H235.32V748.86H236.37V747.99H237.43V748.36H238.49V747.6H239.54V748.38H240.6V747.97H241.65V747.34H242.71V746.83H243.76V747.27H244.82V747.41H245.88V747.38H246.93V746.62H247.99V746.92H249.04V745.86H250.1V745.63H251.15V746.4H252.21V747.12H253.27V747.23H254.32V748.33H255.38V748.97H256.43V750.46H257.49V750.93H258.54V750.89H259.6V750.4H260.66V751.27H261.71V749.62H262.77V747.97H263.82V746.41H264.88V744.88H265.93V742.55H266.99V742.16H268.05V741.69H269.1V739.49H270.16V738.86H271.21V737.96H272.27V738.14H273.32V736.57H274.38V735.88H275.44V736.35H276.49V735.05H277.55V734.48H278.6V734.37H279.66V734.2H280.71V734.19H281.77V733.69H282.82V733.49H283.88V733.48H284.94V732.27H285.99V732.52H287.05V731.3H288.1V732.38H289.16V730.02H290.21V729.57H291.27V728.32H292.33V727.54H293.38V726.71H294.44V726.49H295.49V726.76H296.55V724.89H297.6V725.56H298.66V724.87H299.72V723.7H300.77V723.52H301.83V723.3H302.88V721.8H303.94V722H304.99V721.63H306.05V720.89H307.11V718.7H308.16V718.58H309.22V717.01H310.27V717H311.33V716.42H312.38V714.25H313.44V712.18H314.5V712.2H315.55V709.34H316.61V707.59H317.66V706.41H318.72V704.61H319.77V704.86H320.83V701.58H321.89V699.23H322.94V699.58H324V697.27H325.05V695.54H326.11V692.45H327.16V690.35H328.22V687.81H329.27V684.54H330.33V684.42H331.39V681.89H332.44V679.68H333.5V677.7H334.55V675.88H335.61V670.98H336.66V669.33H337.72V675.25H338.78V677.38H339.83V681.39H340.89V684.83H341.94V688.16H343V689H344.05V690.85H345.11V693.14H346.17V690.47H347.22V686.93H348.28V684.39H349.33V679.95H350.39V676.29H351.44V676.47H352.5V676.55H353.56V675.39H354.61V673.91H355.67V672.31H356.72V670.73H357.78V671.02H358.83V668.64H359.89V668.22H360.95V667.84H362V668.18H363.06V667.92H364.11V667.37H365.17V668.45H366.22V667.69H367.28V670.98H368.34V674.18H369.39V675.77H370.45V677.8H371.5V682.08H372.56V683.41H373.61V685.79H374.67V686.9H375.72V689.16H376.78V693.11H377.84V689.99H378.89V688.6H379.95V688.41H381V684.25H382.06V681.69H383.11V675.98H384.17V672.85H385.23V668.5H386.28V667H387.34V665.62H388.39V663.59H389.45V662.37H390.5V664.52H391.56V663.44H392.62V666H393.67V666.1H394.73V664.53H395.78V667.95H396.84V668.74H397.89V669.66H398.95V668.04H400.01V671.3H401.06V672.75H402.12V671.07H403.17V674.34H404.23V672.99H405.28V674.49H406.34V674.95H407.4V675.55H408.45V677.86H409.51V678.35H410.56V681.81H411.62V680.76H412.67V682.67H413.73V683.31H414.79V686.31H415.84V685.68H416.9V686.4H417.95V690.1H419.01V690.59H420.06V691.15H421.12V693.61H422.17V698.32H423.23V701.62H424.29V704.59H425.34V706.86H426.4V707.74H427.45V709.78H428.51V711.03H429.56V708.82H430.62V706.78H431.68V704.46H432.73V703.15H433.79V699.95H434.84V698.38H435.9V699.46H436.95V698.24H438.01V699.39H439.07V699.18H440.12V700.17H441.18V701.53H442.23V703.07H443.29V704.3H444.34V704.51H445.4V704.5H446.46V706.9H447.51V707.62H448.57V706.67H449.62V706.87H450.68V708.17H451.73V708.71H452.79V708.42H453.85V710.02H454.9V710.19H455.96V710.71H457.01V710.17H458.07V711.15H459.12V711.61H460.18V710.83H461.24V710.51H462.29V712.27H463.35V711.61H464.4V712.54H465.46V711.82H466.51V712.7H467.57V713.17H468.62V713.04H469.68V713.24H470.74V711.97H471.79V711.95H472.85V712.19H473.9V710.62H474.96V709.56H476.01V707.35H477.07V707.7H478.13V704.51H479.18V706.11H480.24V706.18H481.29V706.85H482.35V706.34H483.4V706.73H484.46V707.72H485.52V707.9H486.57V707.33H487.63V707.01H488.68V708.09H489.74V707.3H490.79V706.77H491.85V706.86H492.91V706.35H493.96V705.27H495.02V703.01H496.07V703.83H497.13V703.87H498.18V704.85H499.24V707.04H500.3V708.45H501.35V709.57H502.41V711.02H503.46V711.13H504.52V712.08H505.57V712.57H506.63V714.58H507.69V713.81H508.74V715.59H509.8V715.93H510.85V717.14H511.91V720.36H512.96V722.2H514.02V722.57H515.07V725.51H516.13V726.67H517.19V727.54H518.24V728.66H519.3V731.17H520.35V731.86H521.41V732.28H522.46V732.79H523.52V733.87H524.58V733.82H525.63V733.78H526.69V735.35H527.74V735.81H528.8V737.24H529.85V737.69H530.91V737.76H531.97V741.52H533.02V743.2H534.08V746.07H535.13V749.37H536.19V750.38H537.24V753.29H538.3V806.3Z" fill="url(#mp)"/>
<path d="M74.33 784.97L75.38 782.72L76.44 780.8L77.49 782.78L78.55 782.04L79.61 781.17L80.66 780.57L81.72 779.2L82.77 778.04L83.83 777L84.88 775.84L85.94 774.9L87 773.86L88.05 773.21L89.11 773.44L90.16 773.97L91.22 774.56L92.27 775.1L93.33 775L94.39 775.27L95.44 775.36L96.5 774.57L97.55 774.49L98.61 775.08L99.66 774.66L100.72 775.45L101.78 775.49L102.83 775.77L103.89 776.42L104.94 777.02L106 777.52L107.05 778.04L108.11 778.53L109.17 780.14L110.22 781.73L111.28 782.75L112.33 783.47L113.39 784.39L114.44 784.99L115.5 786.03L116.56 786.86L117.61 787.53L118.67 787.91L119.72 789.04L120.78 789.19L121.83 789.89L122.89 790L123.94 790.82L125 791.34L126.06 791.91L127.11 792.44L128.17 792.89L129.22 793.84L130.28 794.35L131.33 794.98L132.39 795.74L133.45 796.49L134.5 797.25L135.56 798L136.61 798.75L137.67 798.88L138.72 799L139.78 799.12L140.84 799.24L141.89 799.36L142.95 799.21L144 799.06L145.06 798.91L146.11 798.75L147.17 798.83L148.23 798.91L149.28 798.98L150.34 799.06L151.39 799.13L152.45 799.21L153.5 799.28L154.56 799.36L155.62 799.42L156.67 799.47L157.73 799.53L158.78 799.58L159.84 799.64L160.89 799.7L161.95 799.75L163.01 799.81L164.06 799.7L165.12 799.6L166.17 799.49L167.23 799.38L168.28 799.27L169.34 799.16L170.39 799.06L171.45 798.87L172.51 798.68L173.56 798.49L174.62 798.3L175.67 798.11L176.73 797.93L177.78 797.74L178.84 797.55L179.9 797.34L180.95 797.13L182.01 796.91L183.06 796.7L184.12 796.49L185.17 796.28L186.23 796.07L187.29 795.86L188.34 795.65L189.4 795.44L190.45 795.37L191.51 795.31L192.56 795.25L193.62 795.19L194.68 795.13L195.73 795.07L196.79 795.01L197.84 794.95L198.9 794.89L199.95 794.83L201.01 794.81L202.07 794.79L203.12 794.77L204.18 794.75L205.23 794.72L206.29 794.7L207.34 794.68L208.4 794.75L209.46 794.82L210.51 794.89L211.57 794.96L212.62 795.02L213.68 795.09L214.73 795.16L215.79 795.23L216.84 795.3L217.9 795.37L218.96 795.44L220.01 795.54L221.07 795.65L222.12 795.75L223.18 795.86L224.23 795.96L225.29 796.07L226.35 796.17L227.4 796.28L228.46 796.39L229.51 796.49L230.57 796.63L231.62 796.76L232.68 796.9L233.74 797.03L234.79 797.17L235.85 797.31L236.9 797.44L237.96 797.58L239.01 797.71L240.07 797.85L241.13 797.93L242.18 798.01L243.24 798.1L244.29 798.18L245.35 798.26L246.4 798.34L247.46 798.43L248.52 798.51L249.57 798.59L250.63 798.67L251.68 798.75L252.74 798.8L253.79 798.84L254.85 798.88L255.91 798.92L256.96 798.96L258.02 799L259.07 799.04L260.13 799.08L261.18 799.12L262.24 799.16L263.29 799.2L264.35 799.24L265.41 799.28L266.46 799.32L267.52 799.36L268.57 799.37L269.63 799.39L270.68 799.4L271.74 799.41L272.8 799.43L273.85 799.44L274.91 799.45L275.96 799.47L277.02 799.48L278.07 799.5L279.13 799.51L280.19 799.45L281.24 799.4L282.3 799.34L283.35 799.28L284.41 799.23L285.46 799.17L286.52 799.11L287.58 799.06L288.63 799L289.69 798.94L290.74 798.89L291.8 798.83L292.85 798.77L293.91 798.72L294.97 798.66L296.02 798.6L297.08 798.47L298.13 798.34L299.19 798.21L300.24 798.08L301.3 797.94L302.36 797.81L303.41 797.68L304.47 797.55L305.52 797.38L306.58 797.2L307.63 797.03L308.69 796.86L309.74 796.69L310.8 796.51L311.86 796.34L312.91 796.01L313.97 795.67L315.02 795.33L316.08 795L317.13 794.66L318.19 794.33L319.25 794.06L320.3 793.86L321.36 793.11L322.41 793.13L323.47 793.07L324.52 792.94L325.58 792.31L326.64 792.19L327.69 791.9L328.75 791.93L329.8 791.64L330.86 791.68L331.91 791.05L332.97 791.65L334.03 791.39L335.08 791.24L336.14 791.38L337.19 791.89L338.25 791.86L339.3 791.48L340.36 791.71L341.42 791.23L342.47 790.93L343.53 790.95L344.58 790.31L345.64 790.13L346.69 790.13L347.75 789.8L348.81 789.96L349.86 789.66L350.92 789.18L351.97 789.76L353.03 789.35L354.08 789.63L355.14 789.59L356.19 789.11L357.25 789.35L358.31 789.44L359.36 789.42L360.42 789.11L361.47 789.21L362.53 789.71L363.58 789.6L364.64 789.11L365.7 789.73L366.75 789.53L367.81 789.7L368.86 789.49L369.92 789.32L370.97 788.88L372.03 788.77L373.09 788.73L374.14 788.44L375.2 788.11L376.25 787.14L377.31 787.28L378.36 786.94L379.42 785.83L380.48 786L381.53 785.41L382.59 785.94L383.64 785.58L384.7 785.68L385.75 785.68L386.81 786.29L387.87 786.73L388.92 787.09L389.98 787.46L391.03 788.31L392.09 788.55L393.14 789.1L394.2 789.78L395.26 789.66L396.31 790.28L397.37 790.54L398.42 791.43L399.48 791.41L400.53 791.69L401.59 791.72L402.64 792.43L403.7 792.46L404.76 792.58L405.81 793.12L406.87 792.98L407.92 793.07L408.98 793.53L410.03 793.61L411.09 793.9L412.15 794.23L413.2 794.48L414.26 794.73L415.31 794.98L416.37 795.23L417.42 795.49L418.48 795.74L419.54 795.98L420.59 796.22L421.65 796.46L422.7 796.7L423.76 796.94L424.81 797.19L425.87 797.43L426.93 797.67L427.98 797.91L429.04 798.15L430.09 798.26L431.15 798.38L432.2 798.49L433.26 798.6L434.32 798.72L435.37 798.83L436.43 798.94L437.48 799.06L438.54 799.18L439.59 799.3L440.65 799.42L441.71 799.54L442.76 799.66L443.82 799.63L444.87 799.6L445.93 799.57L446.98 799.54L448.04 799.51L449.09 799.54L450.15 799.57L451.21 799.6L452.26 799.63L453.32 799.66L454.37 799.69L455.43 799.72L456.48 799.75L457.54 799.78L458.6 799.81L459.65 799.74L460.71 799.66L461.76 799.58L462.82 799.51L463.87 799.43L464.93 799.36L465.99 799.28L467.04 799.21L468.1 799.13L469.15 799.06L470.21 798.98L471.26 798.91L472.32 798.83L473.38 798.75L474.43 798.69L475.49 798.62L476.54 798.55L477.6 798.49L478.65 798.42L479.71 798.35L480.77 798.29L481.82 798.22L482.88 798.15L483.93 798.26L484.99 798.38L486.04 798.49L487.1 798.6L488.16 798.72L489.21 798.83L490.27 798.94L491.32 799.06L492.38 799.17L493.43 799.28L494.49 799.39L495.54 799.5L496.6 799.61L497.66 799.72L498.71 799.83L499.77 799.93L500.82 800.04L501.88 800.15L502.93 800.26L503.99 800.35L505.05 800.44L506.1 800.52L507.16 800.61L508.21 800.7L509.27 800.78L510.32 800.87L511.38 800.95L512.44 801.04L513.49 801.13L514.55 801.21L515.6 801.3L516.66 801.38L517.71 801.47L518.77 801.56L519.83 801.65L520.88 801.74L521.94 801.83L522.99 801.92L524.05 802.01L525.1 802.1L526.16 802.2L527.22 802.29L528.27 802.38L529.33 802.46L530.38 802.54L531.44 802.63L532.49 802.71L533.55 802.8L534.61 802.88L535.66 802.96L536.72 803.05L537.77 803.13" fill="none" stroke="#db3a35" stroke-width="2.7" stroke-linejoin="round"/>
<g fill="#fff" stroke="#d63c37" stroke-width="1.1"><circle cx="118.67" cy="787.91" r="2.2"/><circle cx="163.01" cy="799.81" r="2.2"/><circle cx="207.34" cy="794.68" r="2.2"/><circle cx="251.68" cy="798.75" r="2.2"/><circle cx="296.02" cy="798.6" r="2.2"/><circle cx="340.36" cy="791.71" r="2.2"/><circle cx="384.7" cy="785.68" r="2.2"/><circle cx="429.04" cy="798.15" r="2.2"/><circle cx="473.38" cy="798.75" r="2.2"/><circle cx="517.71" cy="801.47" r="2.2"/></g>
<path d="M76.2 849L76.2 845.8L77.26 845.74L78.31 845.68L79.37 845.63L80.43 845.57L81.48 845.51L82.54 845.47L83.6 845.42L84.65 845.38L85.71 845.34L86.77 845.29L87.82 845.25L88.88 845.21L89.94 845.19L90.99 845.16L92.05 845.14L93.11 845.1L94.16 845.07L95.22 845.04L96.28 845.03L97.33 845.02L98.39 845.02L99.45 844.99L100.5 844.98L101.56 844.97L102.62 844.97L103.67 844.95L104.73 844.95L105.79 844.94L106.84 844.93L107.9 844.93L108.96 844.92L110.02 844.93L111.07 844.87L112.13 844.83L113.19 844.77L114.24 844.72L115.3 844.7L116.36 844.65L117.41 844.6L118.47 844.54L119.53 844.52L120.58 844.47L121.64 844.44L122.7 844.39L123.75 844.35L124.81 844.3L125.87 844.24L126.92 844.19L127.98 844.13L129.04 844.09L130.09 844.03L131.15 843.98L132.21 843.91L133.26 843.86L134.32 843.81L135.38 843.71L136.43 843.64L137.49 843.57L138.55 843.01L139.6 842.95L140.66 842.94L141.72 842.85L142.77 842.82L143.83 842.79L144.89 843.33L145.94 843.27L147 843.25L148.06 843.29L149.11 843.24L150.17 843.25L151.23 843.24L152.28 843.2L153.34 843.14L154.4 843.1L155.45 843.13L156.51 843.06L157.57 843.08L158.62 843.01L159.68 843.01L160.74 842.96L161.79 842.93L162.85 842.94L163.91 842.88L164.96 842.91L166.02 842.91L167.08 842.85L168.13 842.88L169.19 842.85L170.25 842.82L171.3 842.79L172.36 842.8L173.42 842.75L174.47 842.63L175.53 842.62L176.59 842.51L177.65 842.46L178.7 842.44L179.76 842.37L180.82 842.31L181.87 842.24L182.93 842.19L183.99 842.13L185.04 842.07L186.1 841.98L187.16 841.96L188.21 841.91L189.27 841.83L190.33 841.82L191.38 841.75L192.44 841.63L193.5 841.61L194.55 841.6L195.61 841.64L196.67 841.58L197.72 841.55L198.78 841.51L199.84 841.35L200.89 841.25L201.95 841.22L203.01 841.06L204.06 840.98L205.12 840.92L206.18 840.92L207.23 840.85L208.29 840.81L209.35 840.86L210.4 840.84L211.46 840.76L212.52 840.71L213.57 840.79L214.63 840.75L215.69 840.77L216.74 840.84L217.8 840.88L218.86 840.92L219.91 840.95L220.97 840.97L222.03 841.05L223.08 841.08L224.14 841.09L225.2 841.22L226.25 841.2L227.31 841.14L228.37 841.14L229.42 841.1L230.48 840.99L231.54 841.01L232.59 841.05L233.65 841.05L234.71 841.06L235.76 841.16L236.82 841.17L237.88 841.16L238.93 841.08L239.99 841.11L241.05 841.05L242.11 841.12L243.16 841.08L244.22 841.03L245.28 840.99L246.33 841.03L247.39 841.04L248.45 841.04L249.5 840.97L250.56 841L251.62 840.91L252.67 840.89L253.73 840.96L254.79 841.01L255.84 841.02L256.9 841.11L257.96 841.16L259.01 841.28L260.07 841.32L261.13 841.32L262.18 841.28L263.24 841.35L264.3 841.22L265.35 841.08L266.41 840.96L267.47 840.83L268.52 840.64L269.58 840.61L270.64 840.57L271.69 840.4L272.75 840.35L273.81 840.27L274.86 840.29L275.92 840.16L276.98 840.11L278.03 840.14L279.09 840.04L280.15 839.99L281.2 839.98L282.26 839.97L283.32 839.97L284.37 839.93L285.43 839.91L286.49 839.91L287.54 839.81L288.6 839.83L289.66 839.73L290.71 839.82L291.77 839.63L292.83 839.59L293.88 839.49L294.94 839.43L296 839.36L297.05 839.35L298.11 839.37L299.17 839.22L300.22 839.27L301.28 839.21L302.34 839.12L303.39 839.11L304.45 839.09L305.51 838.97L306.56 838.98L307.62 838.95L308.68 838.89L309.74 838.72L310.79 838.71L311.85 838.58L312.91 838.58L313.96 838.53L315.02 838.36L316.08 838.19L317.13 838.19L318.19 837.96L319.25 837.82L320.3 837.72L321.36 837.58L322.42 837.6L323.47 837.33L324.53 837.14L325.59 837.17L326.64 836.98L327.7 836.84L328.76 836.59L329.81 836.42L330.87 836.22L331.93 835.95L332.98 835.94L334.04 835.74L335.1 835.56L336.15 835.4L337.21 835.25L338.27 834.86L339.32 834.72L340.38 835.2L341.44 835.37L342.49 835.7L343.55 835.98L344.61 836.25L345.66 836.31L346.72 836.46L347.78 836.65L348.83 836.43L349.89 836.15L350.95 835.94L352 835.58L353.06 835.29L354.12 835.3L355.17 835.31L356.23 835.21L357.29 835.09L358.34 834.96L359.4 834.84L360.46 834.86L361.51 834.67L362.57 834.63L363.63 834.6L364.68 834.63L365.74 834.61L366.8 834.57L367.85 834.65L368.91 834.59L369.97 834.86L371.02 835.12L372.08 835.24L373.14 835.41L374.19 835.75L375.25 835.86L376.31 836.05L377.37 836.14L378.42 836.33L379.48 836.65L380.54 836.39L381.59 836.28L382.65 836.27L383.71 835.93L384.76 835.72L385.82 835.26L386.88 835.01L387.93 834.66L388.99 834.54L390.05 834.42L391.1 834.26L392.16 834.16L393.22 834.33L394.27 834.25L395.33 834.45L396.39 834.46L397.44 834.34L398.5 834.61L399.56 834.68L400.61 834.75L401.67 834.62L402.73 834.88L403.78 835L404.84 834.86L405.9 835.13L406.95 835.02L408.01 835.14L409.07 835.18L410.12 835.23L411.18 835.41L412.24 835.45L413.29 835.73L414.35 835.65L415.41 835.8L416.46 835.85L417.52 836.1L418.58 836.05L419.63 836.1L420.69 836.4L421.75 836.44L422.8 836.49L423.86 836.69L424.92 837.07L425.97 837.33L427.03 837.57L428.09 837.76L429.14 837.83L430.2 837.99L431.26 838.1L432.31 837.92L433.37 837.75L434.43 837.56L435.48 837.46L436.54 837.2L437.6 837.07L438.65 837.16L439.71 837.06L440.77 837.15L441.83 837.14L442.88 837.22L443.94 837.33L445 837.45L446.05 837.55L447.11 837.57L448.17 837.57L449.22 837.76L450.28 837.82L451.34 837.74L452.39 837.76L453.45 837.86L454.51 837.91L455.56 837.88L456.62 838.01L457.68 838.03L458.73 838.07L459.79 838.03L460.85 838.11L461.9 838.14L462.96 838.08L464.02 838.05L465.07 838.2L466.13 838.14L467.19 838.22L468.24 838.16L469.3 838.23L470.36 838.27L471.41 838.26L472.47 838.27L473.53 838.17L474.58 838.17L475.64 838.19L476.7 838.06L477.75 837.98L478.81 837.8L479.87 837.83L480.92 837.57L481.98 837.7L483.04 837.7L484.09 837.76L485.15 837.72L486.21 837.75L487.26 837.83L488.32 837.84L489.38 837.8L490.43 837.77L491.49 837.86L492.55 837.79L493.6 837.75L494.66 837.76L495.72 837.72L496.77 837.63L497.83 837.45L498.89 837.51L499.94 837.52L501 837.6L502.06 837.77L503.11 837.89L504.17 837.98L505.23 838.09L506.28 838.1L507.34 838.18L508.4 838.22L509.46 838.38L510.51 838.32L511.57 838.46L512.63 838.49L513.68 838.59L514.74 838.85L515.8 839L516.85 839.03L517.91 839.27L518.97 839.36L520.02 839.43L521.08 839.52L522.14 839.72L523.19 839.78L524.25 839.81L525.31 839.86L526.36 839.94L527.42 839.94L528.48 839.94L529.53 840.06L530.59 840.1L531.65 840.21L532.7 840.25L533.76 840.26L534.82 840.56L535.87 840.7L536.93 840.93L537.99 841.2L539.04 841.28L540.1 841.51L540.1 849Z" fill="rgba(47,69,84,0.09)" stroke="rgba(47,69,84,0.3)" stroke-width="0.5"/>
<rect x="76.2" y="829.6" width="463.9" height="19.4" fill="rgba(167,183,204,0.4)"/>
<path d="M591.1 807.7H594.5L608.4 657.3H591.1Z" fill="rgba(47,69,84,0.09)"/>
<path d="M594.5 807.7L608.4 657.3" fill="none" stroke="rgba(47,69,84,0.3)" stroke-width="0.5"/>
<rect x="591.1" y="657.3" width="19.7" height="150.4" fill="rgba(167,183,204,0.4)"/>
<rect x="99.3" y="655.6" width="25" height="14" rx="3.5" fill="#d63c37"/>
<rect x="217.3" y="655.6" width="25" height="14" rx="3.5" fill="#26b29e"/>
<path d="M343.5 662.4H368.5" stroke="#e2605c" stroke-width="1.5"/><circle cx="356" cy="662.4" r="5" fill="#fff" stroke="#e2605c" stroke-width="1.5"/>
</svg>
<span class="t" style="left:58.20px;top:800px;font-size:12.3px;color:#999;transform:scaleX(1.0228);">0</span>
<span class="t" style="left:37.00px;top:778px;font-size:12.3px;color:#999;transform:scaleX(1.0573);">300k</span>
<span class="t" style="left:37.00px;top:757px;font-size:12.3px;color:#999;transform:scaleX(1.0573);">600k</span>
<span class="t" style="left:37.00px;top:735px;font-size:12.3px;color:#999;transform:scaleX(1.0573);">900k</span>
<span class="t" style="left:36.60px;top:713px;font-size:12.3px;color:#999;transform:scaleX(1.0459);">1.2m</span>
<span class="t" style="left:36.60px;top:692px;font-size:12.3px;color:#999;transform:scaleX(1.0459);">1.5m</span>
<span class="t" style="left:36.60px;top:670px;font-size:12.3px;color:#999;transform:scaleX(1.0459);">1.8m</span>
<span class="t" style="left:36.60px;top:649px;font-size:12.3px;color:#999;transform:scaleX(1.0459);">2.1m</span>
<span class="t" style="left:546.20px;top:800px;font-size:12.3px;color:#999;transform:scaleX(0.9729);">0%</span>
<span class="t" style="left:546.20px;top:770px;font-size:12.3px;color:#999;transform:scaleX(0.9909);">20%</span>
<span class="t" style="left:546.20px;top:739px;font-size:12.3px;color:#999;transform:scaleX(0.9909);">40%</span>
<span class="t" style="left:546.20px;top:709px;font-size:12.3px;color:#999;transform:scaleX(0.9909);">60%</span>
<span class="t" style="left:546.20px;top:679px;font-size:12.3px;color:#999;transform:scaleX(0.9909);">80%</span>
<span class="t" style="left:546.20px;top:649px;font-size:12.3px;color:#999;">100%</span>
<span class="t" style="left:61.45px;top:814px;font-size:12.5px;color:#999;transform:scaleX(1.0393);">3/21</span>
<span class="t" style="left:109.29px;top:814px;font-size:12.5px;color:#999;transform:scaleX(1.0523);">5/2</span>
<span class="t" style="left:150.13px;top:814px;font-size:12.5px;color:#999;transform:scaleX(1.0393);">6/13</span>
<span class="t" style="left:194.47px;top:814px;font-size:12.5px;color:#999;transform:scaleX(1.0393);">7/25</span>
<span class="t" style="left:242.30px;top:814px;font-size:12.5px;color:#999;transform:scaleX(1.0523);">9/5</span>
<span class="t" style="left:279.64px;top:814px;font-size:12.5px;color:#999;transform:scaleX(1.0326);">10/17</span>
<span class="t" style="left:323.98px;top:814px;font-size:12.5px;color:#999;transform:scaleX(1.0639);">11/28</span>
<span class="t" style="left:375.32px;top:814px;font-size:12.5px;color:#999;transform:scaleX(1.0523);">1/9</span>
<span class="t" style="left:416.16px;top:814px;font-size:12.5px;color:#999;transform:scaleX(1.0393);">2/20</span>
<span class="t" style="left:464.00px;top:814px;font-size:12.5px;color:#999;transform:scaleX(1.0523);">4/3</span>
<span class="t" style="left:504.84px;top:814px;font-size:12.5px;color:#999;transform:scaleX(1.0393);">5/15</span>
<span class="t" style="left:130.50px;top:656px;font-size:12px;color:#333;transform:scaleX(1.0430);">Positive Tests</span>
<span class="t" style="left:248.20px;top:656px;font-size:12px;color:#333;transform:scaleX(1.0611);">Negative Tests</span>
<span class="t" style="left:373.60px;top:656px;font-size:12px;color:#333;transform:scaleX(1.0542);">7-day Positive Rate</span>
<span class="t" style="left:308.85px;top:608px;font-size:15px;font-weight:700;color:#222;transform:scaleX(0.9165);">Tests</span>
<span class="t" style="left:268.40px;top:633px;font-size:12.5px;color:#333;transform:scaleX(0.9030);">Daily</span>
<span class="t" style="left:307.40px;top:633px;font-size:12.5px;color:#333;transform:scaleX(0.9541);">7-day Average</span>
</section>
</body></html>
